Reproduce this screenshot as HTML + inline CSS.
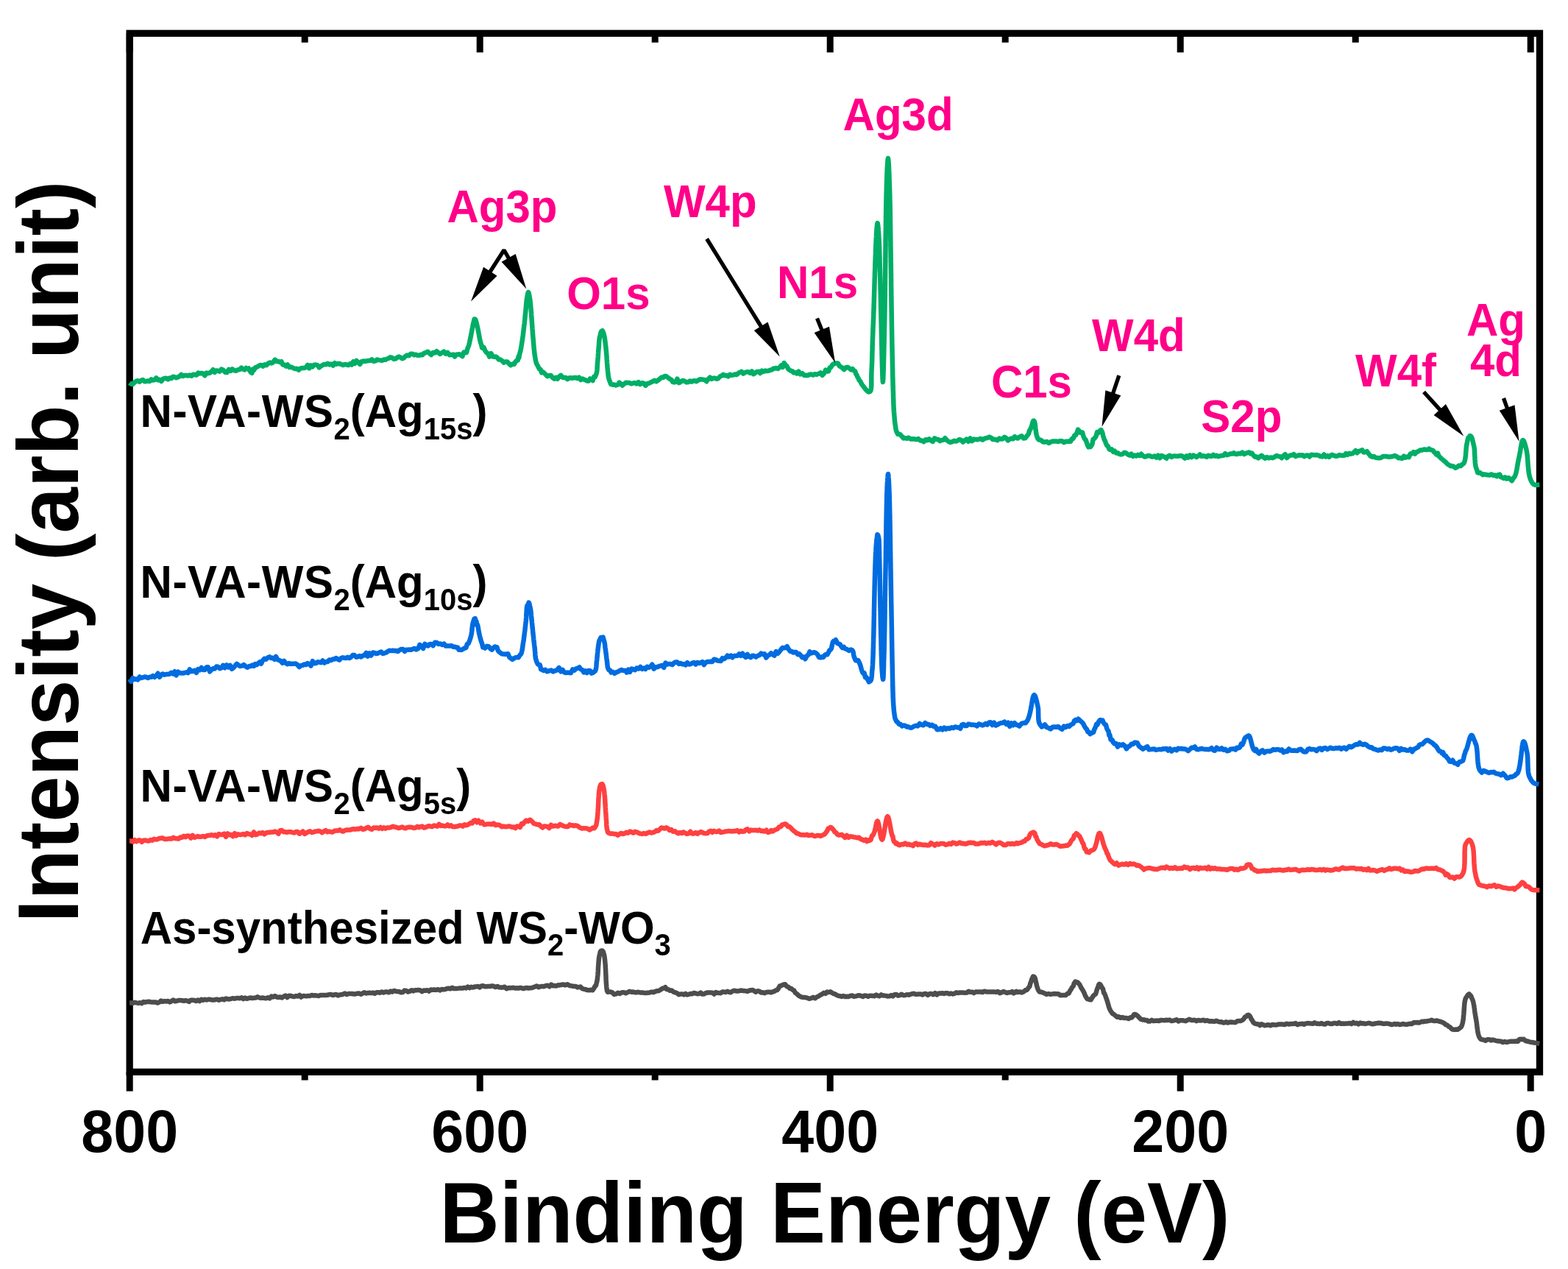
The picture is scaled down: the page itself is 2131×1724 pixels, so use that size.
<!DOCTYPE html>
<html><head><meta charset="utf-8"><title>XPS survey spectra</title>
<style>html,body{margin:0;padding:0;background:#fff;}svg{display:block;}</style>
</head><body>
<svg width="2131" height="1724" viewBox="0 0 2131 1724" font-family="'Liberation Sans', Arial, sans-serif" font-weight="bold">
<rect width="2131" height="1724" fill="#fff"/>
<rect x="176.15" y="45.3" width="1916.35" height="1411.0" fill="none" stroke="#000" stroke-width="9.3" stroke-linejoin="miter"/>
<path d="M176.2,1456.3 V1482.5 M176.2,45.3 V71.2 M414.2,1456.3 V1467.5 M414.2,45.3 V57.7 M652.2,1456.3 V1482.5 M652.2,45.3 V71.2 M890.2,1456.3 V1467.5 M890.2,45.3 V57.7 M1128.2,1456.3 V1482.5 M1128.2,45.3 V71.2 M1366.2,1456.3 V1467.5 M1366.2,45.3 V57.7 M1604.2,1456.3 V1482.5 M1604.2,45.3 V71.2 M1842.2,1456.3 V1467.5 M1842.2,45.3 V57.7 M2080.2,1456.3 V1482.5 M2080.2,45.3 V71.2" stroke="#000" stroke-width="9" fill="none"/>
<path d="M176.0,1362.5 L178.4,1362.4 L180.8,1362.7 L183.1,1361.8 L185.5,1362.4 L187.9,1362.8 L190.3,1362.2 L192.7,1363.1 L195.0,1361.0 L197.4,1361.7 L199.8,1361.0 L202.2,1360.8 L204.6,1361.2 L207.0,1361.4 L209.3,1361.5 L211.7,1361.5 L214.1,1362.6 L216.5,1361.6 L218.9,1359.5 L221.2,1360.8 L223.6,1360.1 L226.0,1360.5 L228.4,1360.0 L230.8,1361.4 L233.1,1360.1 L235.5,1358.6 L237.9,1360.3 L240.3,1359.8 L242.7,1359.0 L245.0,1359.1 L247.4,1359.3 L249.8,1359.7 L252.2,1359.3 L254.6,1359.6 L257.0,1360.9 L259.3,1358.7 L261.7,1358.7 L264.1,1359.0 L266.5,1360.0 L268.9,1358.5 L271.2,1360.1 L273.6,1357.8 L276.0,1358.8 L278.4,1357.8 L280.8,1358.5 L283.1,1357.7 L285.5,1357.8 L287.9,1358.5 L290.3,1358.6 L292.7,1358.0 L295.0,1357.6 L297.4,1358.7 L299.8,1357.9 L302.2,1357.3 L304.6,1358.3 L307.0,1356.5 L309.3,1357.2 L311.7,1357.4 L314.1,1356.8 L316.5,1356.2 L318.9,1356.8 L321.2,1356.0 L323.6,1355.9 L326.0,1356.2 L328.4,1355.3 L330.8,1357.1 L333.1,1355.5 L335.5,1356.8 L337.9,1356.1 L340.3,1355.5 L342.7,1356.1 L345.0,1355.8 L347.4,1355.6 L349.8,1354.3 L352.2,1355.4 L354.6,1355.9 L357.0,1355.5 L359.3,1355.9 L361.7,1356.2 L364.1,1355.2 L366.5,1356.4 L368.9,1353.6 L371.2,1354.5 L373.6,1353.0 L376.0,1354.5 L378.4,1355.0 L380.8,1354.4 L383.1,1355.5 L385.5,1353.9 L387.9,1352.5 L390.3,1355.0 L392.7,1352.8 L395.0,1352.8 L397.4,1353.6 L399.8,1354.1 L402.2,1353.1 L404.6,1353.5 L407.0,1351.9 L409.3,1354.6 L411.7,1353.1 L414.1,1353.1 L416.5,1353.4 L418.9,1352.9 L421.2,1352.9 L423.6,1351.9 L426.0,1352.5 L428.4,1352.3 L430.8,1352.6 L433.1,1353.0 L435.5,1352.0 L437.9,1352.0 L440.3,1352.1 L442.7,1352.1 L445.0,1351.7 L447.4,1351.3 L449.8,1350.9 L452.2,1352.1 L454.6,1351.3 L457.0,1351.0 L459.3,1352.4 L461.7,1351.4 L464.1,1351.3 L466.5,1350.6 L468.9,1349.6 L471.2,1351.1 L473.6,1350.1 L476.0,1350.0 L478.4,1349.9 L480.8,1350.5 L483.1,1350.4 L485.5,1349.7 L487.9,1349.4 L490.3,1350.8 L492.7,1349.6 L495.0,1348.2 L497.4,1349.5 L499.8,1348.9 L502.2,1348.7 L504.6,1349.1 L507.0,1348.6 L509.3,1349.8 L511.7,1348.3 L514.1,1348.3 L516.5,1348.8 L518.9,1347.4 L521.2,1348.5 L523.6,1347.6 L526.0,1347.5 L528.4,1348.3 L530.8,1346.6 L533.1,1347.5 L535.5,1345.9 L537.9,1346.7 L540.3,1346.9 L542.7,1347.2 L545.0,1348.2 L547.4,1348.1 L549.8,1345.6 L552.2,1345.9 L554.6,1347.4 L557.0,1346.6 L559.3,1345.2 L561.7,1346.5 L564.1,1345.2 L566.5,1345.3 L568.9,1344.9 L571.2,1345.5 L573.6,1347.1 L576.0,1345.5 L578.4,1345.7 L580.8,1345.2 L583.2,1346.6 L585.6,1344.6 L588.1,1344.7 L590.5,1344.5 L592.9,1344.9 L595.4,1344.2 L597.8,1345.4 L600.2,1343.9 L602.7,1344.4 L605.1,1344.0 L607.5,1343.0 L609.9,1342.8 L612.2,1343.3 L614.6,1341.7 L616.9,1343.1 L619.2,1343.0 L621.5,1342.9 L623.8,1342.6 L626.0,1342.5 L628.5,1342.6 L630.9,1341.9 L633.4,1342.4 L635.8,1340.5 L638.1,1342.2 L640.5,1340.7 L642.8,1341.5 L645.1,1340.6 L647.4,1340.4 L649.7,1340.0 L652.0,1341.4 L654.3,1339.5 L656.6,1339.3 L658.9,1340.2 L661.2,1340.2 L663.5,1340.0 L666.0,1340.1 L668.4,1339.4 L670.9,1339.8 L673.4,1341.1 L676.0,1339.9 L678.5,1341.3 L681.0,1341.6 L683.5,1341.4 L685.9,1340.7 L688.4,1343.2 L690.8,1342.1 L693.1,1342.3 L695.5,1342.1 L697.8,1341.7 L700.0,1342.5 L702.4,1342.3 L704.8,1342.6 L707.0,1341.8 L709.2,1342.4 L711.4,1343.1 L713.6,1342.4 L715.7,1341.9 L717.9,1342.5 L720.2,1342.3 L722.6,1342.1 L725.0,1341.2 L727.2,1340.5 L729.4,1339.5 L731.8,1341.2 L734.2,1340.4 L736.6,1339.9 L739.1,1340.2 L741.6,1339.2 L744.2,1338.8 L746.7,1340.3 L749.1,1337.6 L751.6,1339.2 L753.9,1339.1 L756.2,1339.5 L758.4,1338.3 L760.5,1338.4 L762.5,1338.0 L765.4,1337.4 L768.2,1338.4 L770.9,1337.2 L773.4,1338.6 L775.8,1339.3 L778.0,1339.6 L780.0,1340.0 L782.5,1339.9 L784.7,1341.4 L786.8,1341.0 L788.9,1340.6 L791.0,1342.9 L793.1,1343.6 L795.7,1344.1 L798.3,1345.1 L800.9,1345.2 L803.2,1344.8 L805.3,1345.3 L807.2,1342.6 L808.7,1339.8 L809.9,1339.0 L810.8,1335.3 L811.4,1332.9 L811.8,1330.3 L812.1,1327.6 L812.4,1324.8 L812.6,1322.3 L812.8,1319.7 L812.9,1317.1 L813.0,1314.4 L813.2,1311.8 L813.4,1309.6 L813.5,1307.3 L813.7,1305.0 L813.9,1302.7 L814.2,1300.6 L814.5,1298.7 L815.1,1297.0 L815.7,1293.4 L816.6,1291.9 L818.4,1291.4 L819.7,1292.7 L820.7,1296.1 L821.3,1298.4 L821.7,1300.9 L822.0,1303.7 L822.3,1306.6 L822.5,1308.7 L822.7,1310.8 L822.8,1313.1 L822.9,1315.3 L823.1,1317.6 L823.2,1319.9 L823.3,1322.2 L823.4,1324.5 L823.5,1326.8 L823.6,1329.1 L823.6,1331.4 L823.8,1333.7 L823.9,1335.9 L824.1,1337.9 L824.3,1340.8 L824.6,1343.6 L825.0,1346.1 L826.0,1347.8 L827.8,1347.5 L830.0,1347.6 L832.2,1348.3 L834.7,1350.9 L837.4,1350.4 L839.8,1348.8 L842.4,1349.9 L845.2,1348.3 L847.9,1348.3 L850.4,1349.4 L852.9,1348.1 L855.5,1346.8 L858.3,1347.8 L860.5,1347.5 L862.7,1348.2 L865.1,1348.3 L867.5,1347.8 L870.0,1348.4 L872.5,1348.4 L875.0,1348.8 L877.5,1349.0 L880.1,1348.7 L882.8,1348.4 L885.5,1347.6 L888.2,1348.2 L890.7,1346.8 L893.0,1346.2 L895.0,1346.2 L897.1,1345.0 L898.7,1343.9 L900.4,1342.8 L902.5,1342.5 L904.2,1341.2 L906.2,1344.1 L908.3,1344.3 L910.5,1345.8 L912.9,1345.6 L915.3,1347.6 L917.7,1348.3 L920.2,1349.2 L922.6,1351.2 L925.0,1350.5 L927.2,1350.4 L929.4,1351.4 L931.7,1349.8 L933.9,1351.4 L936.2,1350.8 L938.5,1350.0 L940.8,1350.2 L943.1,1349.0 L945.4,1349.5 L947.7,1350.2 L950.0,1350.0 L952.3,1348.5 L954.5,1350.6 L956.8,1350.4 L959.1,1349.1 L961.4,1348.5 L963.6,1348.4 L965.9,1348.4 L968.2,1348.7 L970.5,1350.5 L972.7,1348.1 L975.0,1348.8 L977.3,1349.1 L979.5,1349.2 L981.8,1347.4 L984.1,1347.6 L986.4,1348.0 L988.6,1346.8 L990.9,1347.9 L993.2,1348.2 L995.5,1346.5 L997.7,1345.8 L1000.0,1346.2 L1002.3,1346.6 L1004.5,1346.3 L1006.8,1345.5 L1009.1,1345.9 L1011.4,1346.1 L1013.6,1346.4 L1015.9,1346.9 L1018.2,1345.7 L1020.5,1345.2 L1022.7,1345.0 L1025.0,1346.2 L1027.3,1347.7 L1029.7,1346.3 L1032.0,1346.6 L1034.4,1348.6 L1036.8,1348.3 L1039.2,1349.2 L1041.5,1347.9 L1043.8,1347.7 L1045.9,1347.7 L1048.0,1348.4 L1050.0,1347.5 L1052.2,1346.9 L1054.2,1345.5 L1056.1,1345.1 L1057.9,1342.9 L1059.7,1339.5 L1061.5,1339.2 L1063.2,1338.3 L1065.0,1337.5 L1067.2,1337.3 L1069.3,1340.2 L1071.4,1340.8 L1073.5,1342.9 L1075.5,1343.1 L1077.5,1345.0 L1079.2,1345.6 L1080.7,1348.6 L1082.2,1349.6 L1083.8,1350.9 L1085.5,1352.6 L1087.5,1353.8 L1089.6,1354.6 L1091.9,1355.0 L1094.4,1355.1 L1097.0,1355.7 L1099.7,1356.8 L1102.4,1356.2 L1105.1,1354.8 L1107.6,1356.3 L1110.0,1354.5 L1112.5,1353.5 L1114.9,1351.7 L1117.3,1350.6 L1119.6,1348.9 L1121.8,1349.9 L1124.0,1347.6 L1126.2,1348.0 L1128.5,1347.3 L1130.7,1348.7 L1132.8,1350.0 L1134.9,1350.4 L1137.3,1351.9 L1140.0,1353.0 L1141.9,1353.2 L1143.9,1353.9 L1146.0,1352.9 L1148.3,1354.0 L1150.6,1353.7 L1153.1,1353.9 L1155.6,1353.0 L1158.1,1352.5 L1160.6,1353.8 L1163.2,1353.4 L1165.7,1352.4 L1168.1,1352.2 L1170.5,1353.1 L1172.8,1353.9 L1175.0,1352.5 L1177.4,1352.7 L1179.8,1353.9 L1182.0,1352.7 L1184.3,1352.7 L1186.5,1352.9 L1188.6,1353.3 L1190.8,1351.5 L1193.0,1352.7 L1195.3,1353.4 L1197.6,1351.4 L1200.0,1352.5 L1202.2,1352.6 L1204.4,1352.9 L1206.6,1353.5 L1208.9,1353.3 L1211.2,1352.1 L1213.5,1353.4 L1215.8,1351.2 L1218.1,1350.9 L1220.5,1352.7 L1222.9,1352.1 L1225.4,1350.7 L1227.9,1352.2 L1230.4,1351.9 L1233.0,1351.2 L1235.2,1351.7 L1237.4,1350.8 L1239.6,1350.2 L1241.9,1349.8 L1244.2,1350.8 L1246.5,1350.8 L1248.9,1350.5 L1251.3,1350.4 L1253.7,1351.4 L1256.1,1349.9 L1258.6,1350.1 L1261.0,1352.0 L1263.5,1350.1 L1266.0,1350.1 L1268.4,1351.2 L1270.9,1349.1 L1273.3,1351.4 L1275.8,1349.4 L1278.2,1349.6 L1280.6,1349.2 L1283.0,1350.0 L1285.4,1349.2 L1287.8,1349.3 L1290.1,1350.3 L1292.5,1349.5 L1294.9,1350.4 L1297.3,1349.8 L1299.7,1348.3 L1302.0,1349.0 L1304.4,1348.4 L1306.8,1348.4 L1309.2,1348.6 L1311.6,1348.7 L1314.0,1348.6 L1316.3,1346.8 L1318.7,1347.9 L1321.1,1347.6 L1323.5,1349.1 L1325.9,1347.5 L1328.2,1347.6 L1330.6,1347.6 L1333.0,1347.5 L1335.4,1348.0 L1337.9,1346.7 L1340.4,1347.4 L1343.0,1347.4 L1345.6,1347.6 L1348.3,1347.5 L1350.9,1347.4 L1353.6,1347.9 L1356.2,1347.0 L1358.8,1349.1 L1361.4,1348.1 L1363.9,1347.0 L1366.4,1348.1 L1368.8,1349.0 L1371.2,1348.2 L1373.4,1348.3 L1375.6,1347.0 L1377.6,1349.3 L1379.5,1348.3 L1381.3,1346.8 L1383.0,1348.0 L1386.1,1347.4 L1388.8,1348.4 L1391.2,1347.3 L1393.4,1345.3 L1395.5,1345.0 L1396.9,1343.1 L1398.1,1341.5 L1399.3,1340.1 L1400.3,1336.1 L1401.3,1333.7 L1402.2,1330.4 L1403.1,1328.6 L1404.1,1326.5 L1405.0,1326.8 L1405.9,1327.4 L1406.7,1329.0 L1407.3,1331.4 L1408.0,1334.2 L1408.6,1337.3 L1409.4,1340.5 L1410.4,1343.4 L1411.5,1345.8 L1413.0,1347.5 L1414.9,1347.7 L1417.2,1348.4 L1419.7,1349.4 L1422.3,1350.8 L1425.1,1350.0 L1427.8,1350.8 L1430.5,1350.4 L1433.0,1350.0 L1435.6,1350.3 L1438.2,1350.2 L1440.9,1352.2 L1443.5,1351.9 L1445.9,1351.9 L1448.3,1352.1 L1450.5,1350.0 L1452.4,1349.6 L1454.0,1346.6 L1455.6,1344.1 L1457.0,1341.5 L1458.5,1339.9 L1459.9,1335.6 L1461.4,1333.6 L1463.0,1334.2 L1464.4,1334.4 L1465.8,1336.0 L1467.3,1337.5 L1468.9,1341.0 L1470.4,1343.5 L1472.0,1346.0 L1473.5,1348.9 L1475.0,1352.9 L1476.5,1355.4 L1477.9,1357.2 L1479.2,1357.2 L1480.5,1358.0 L1482.6,1358.3 L1484.5,1355.1 L1486.3,1352.4 L1488.0,1351.2 L1489.1,1350.4 L1490.0,1347.3 L1490.8,1344.5 L1491.7,1342.3 L1492.5,1340.1 L1493.3,1337.6 L1494.2,1336.8 L1495.2,1337.3 L1496.1,1338.7 L1497.1,1340.6 L1498.1,1342.4 L1499.1,1343.9 L1500.1,1348.8 L1501.1,1349.7 L1502.1,1352.3 L1503.0,1355.0 L1503.9,1357.2 L1504.6,1359.6 L1505.4,1362.1 L1506.1,1364.5 L1506.8,1367.0 L1507.5,1369.3 L1508.4,1371.4 L1509.4,1373.4 L1510.5,1375.0 L1512.2,1377.2 L1514.0,1378.2 L1516.0,1379.8 L1518.2,1381.7 L1520.5,1381.2 L1522.8,1382.8 L1525.4,1382.1 L1528.2,1383.1 L1531.0,1383.0 L1533.7,1384.0 L1536.1,1382.3 L1538.0,1382.5 L1539.9,1380.4 L1541.4,1377.9 L1543.0,1378.0 L1544.6,1378.9 L1546.4,1380.4 L1548.3,1382.6 L1550.5,1384.7 L1553.0,1385.5 L1554.7,1385.2 L1556.6,1386.1 L1558.6,1385.9 L1560.7,1387.6 L1562.9,1387.4 L1565.2,1385.8 L1567.6,1387.1 L1570.1,1386.7 L1572.6,1386.6 L1575.2,1386.9 L1577.8,1385.9 L1580.4,1386.1 L1583.0,1386.2 L1585.1,1385.8 L1587.3,1385.9 L1589.5,1385.6 L1591.8,1387.0 L1594.2,1386.7 L1596.6,1386.1 L1599.0,1385.2 L1601.4,1387.5 L1603.9,1386.2 L1606.4,1386.3 L1608.9,1386.6 L1611.4,1387.2 L1613.9,1385.9 L1616.4,1384.8 L1618.9,1385.9 L1621.3,1386.1 L1623.7,1385.7 L1626.1,1387.1 L1628.5,1385.9 L1630.8,1386.4 L1633.0,1386.2 L1635.5,1385.8 L1638.0,1387.0 L1640.6,1386.2 L1643.1,1387.4 L1645.6,1387.2 L1648.1,1387.5 L1650.5,1387.8 L1653.0,1386.8 L1655.4,1387.8 L1657.7,1388.4 L1660.0,1388.2 L1662.3,1389.4 L1664.4,1389.3 L1666.5,1388.3 L1668.6,1389.6 L1670.5,1388.8 L1673.4,1388.5 L1676.2,1388.9 L1678.9,1389.1 L1681.4,1387.3 L1683.7,1387.1 L1685.9,1387.0 L1688.0,1386.2 L1690.1,1384.7 L1691.9,1381.7 L1693.5,1381.2 L1695.1,1379.4 L1696.8,1378.8 L1698.1,1379.7 L1699.3,1381.6 L1700.4,1384.3 L1701.7,1385.9 L1703.3,1389.0 L1705.5,1390.5 L1706.9,1390.9 L1708.6,1391.3 L1710.4,1391.5 L1712.3,1393.1 L1714.4,1391.3 L1716.7,1392.3 L1719.0,1393.2 L1721.5,1392.6 L1724.0,1392.3 L1726.6,1393.3 L1729.3,1391.9 L1732.0,1392.2 L1734.7,1392.4 L1737.5,1391.6 L1740.3,1391.4 L1743.1,1391.6 L1745.8,1392.0 L1748.5,1390.7 L1751.2,1391.5 L1753.8,1391.0 L1756.3,1391.0 L1758.6,1390.8 L1760.9,1390.1 L1763.2,1392.1 L1765.5,1391.3 L1767.8,1391.1 L1770.2,1390.7 L1772.5,1391.8 L1774.9,1390.4 L1777.2,1390.1 L1779.6,1390.2 L1781.9,1390.6 L1784.3,1390.8 L1786.6,1389.3 L1789.0,1390.7 L1791.4,1390.6 L1793.7,1391.0 L1796.1,1390.1 L1798.5,1391.2 L1800.8,1391.5 L1803.2,1389.9 L1805.5,1390.0 L1807.9,1390.8 L1810.3,1390.9 L1812.6,1390.1 L1815.0,1390.1 L1817.3,1390.8 L1819.7,1389.1 L1822.1,1390.7 L1824.5,1390.4 L1826.9,1390.7 L1829.4,1390.4 L1831.8,1390.6 L1834.2,1389.9 L1836.6,1391.0 L1839.0,1388.9 L1841.5,1390.4 L1843.9,1389.8 L1846.2,1391.5 L1848.6,1389.6 L1851.0,1390.4 L1853.3,1390.3 L1855.6,1390.9 L1857.9,1390.4 L1860.2,1389.8 L1862.4,1390.4 L1864.6,1391.2 L1866.8,1391.0 L1868.9,1390.5 L1871.5,1390.1 L1874.0,1389.8 L1876.5,1389.9 L1879.0,1390.7 L1881.4,1390.7 L1883.8,1390.6 L1886.2,1390.6 L1888.5,1391.1 L1890.8,1391.9 L1893.1,1391.7 L1895.4,1390.9 L1897.7,1391.7 L1899.9,1391.0 L1902.1,1391.9 L1904.3,1391.7 L1906.5,1391.0 L1909.0,1391.5 L1911.5,1391.9 L1914.1,1391.2 L1916.6,1390.8 L1919.0,1390.9 L1921.5,1389.1 L1923.8,1389.3 L1926.2,1389.0 L1928.4,1389.5 L1930.6,1388.7 L1932.6,1387.7 L1934.6,1388.2 L1937.1,1387.4 L1939.3,1387.4 L1941.5,1386.9 L1943.5,1386.6 L1945.6,1385.8 L1947.8,1386.7 L1950.3,1387.0 L1952.9,1386.5 L1955.5,1387.5 L1958.0,1388.0 L1960.5,1389.0 L1962.8,1390.1 L1964.8,1392.2 L1966.7,1392.7 L1968.6,1394.5 L1970.4,1395.2 L1972.2,1397.2 L1974.1,1398.5 L1976.4,1398.9 L1978.8,1398.5 L1981.2,1398.7 L1983.4,1397.1 L1985.3,1395.7 L1986.2,1394.5 L1986.9,1392.9 L1987.5,1390.9 L1988.0,1388.7 L1988.4,1386.3 L1988.8,1383.6 L1989.0,1380.8 L1989.3,1378.0 L1989.5,1375.1 L1989.7,1372.2 L1989.9,1369.3 L1990.1,1366.6 L1990.3,1364.0 L1990.6,1361.7 L1991.0,1359.6 L1991.4,1357.8 L1991.9,1356.3 L1993.4,1353.9 L1995.0,1351.4 L1996.6,1350.4 L1997.8,1351.8 L1999.1,1352.9 L2000.2,1356.1 L2001.3,1358.2 L2001.9,1360.0 L2002.4,1362.0 L2002.8,1364.2 L2003.3,1366.5 L2003.6,1369.0 L2004.0,1371.6 L2004.3,1374.2 L2004.7,1376.9 L2005.1,1379.5 L2005.5,1382.0 L2006.0,1384.5 L2006.4,1386.9 L2006.8,1389.4 L2007.1,1392.0 L2007.4,1394.6 L2007.7,1397.3 L2008.1,1399.9 L2008.5,1402.5 L2009.0,1404.8 L2009.7,1407.0 L2010.4,1408.9 L2011.4,1410.5 L2012.5,1411.7 L2014.3,1412.4 L2016.5,1412.7 L2018.9,1413.9 L2021.4,1412.2 L2024.0,1412.2 L2026.4,1413.5 L2028.5,1412.6 L2030.9,1413.2 L2033.1,1413.8 L2035.3,1414.3 L2037.9,1414.5 L2040.0,1414.7 L2042.5,1416.1 L2045.2,1415.0 L2048.0,1416.0 L2050.8,1415.1 L2053.6,1414.7 L2056.1,1414.8 L2058.5,1414.8 L2060.4,1414.5 L2062.9,1414.7 L2064.9,1412.0 L2067.0,1411.7 L2068.9,1412.2 L2070.9,1411.8 L2073.1,1414.0 L2075.4,1414.5 L2077.5,1415.0 L2079.8,1415.8 L2082.2,1416.0 L2084.7,1416.5 L2087.3,1416.9 L2089.8,1417.4 L2092.3,1417.9" fill="none" stroke="#4d4d4d" stroke-width="6.5" stroke-linejoin="round" stroke-linecap="butt"/>
<path d="M176.0,1142.5 L178.4,1142.5 L180.8,1143.7 L183.1,1141.1 L185.5,1143.2 L187.9,1141.6 L190.3,1141.5 L192.7,1143.9 L195.0,1141.8 L197.4,1141.5 L199.8,1142.2 L202.2,1142.6 L204.6,1141.1 L207.0,1141.7 L209.3,1139.8 L211.7,1140.4 L214.1,1140.2 L216.5,1139.0 L218.9,1138.7 L221.2,1138.4 L223.6,1139.9 L226.0,1140.0 L228.4,1139.6 L230.8,1139.3 L233.1,1139.6 L235.5,1137.8 L237.9,1139.0 L240.3,1139.2 L242.7,1139.6 L245.0,1137.5 L247.4,1137.8 L249.8,1135.8 L252.2,1137.3 L254.6,1135.4 L257.0,1135.8 L259.3,1138.5 L261.7,1134.8 L264.1,1137.8 L266.5,1137.0 L268.9,1136.1 L271.2,1136.8 L273.6,1136.7 L276.0,1136.0 L278.4,1137.0 L280.8,1135.5 L283.1,1135.0 L285.5,1134.8 L287.9,1134.3 L290.3,1135.3 L292.7,1134.4 L295.0,1136.4 L297.4,1133.0 L299.8,1133.8 L302.2,1133.9 L304.6,1132.6 L307.0,1136.9 L309.3,1132.4 L311.7,1134.3 L314.1,1133.9 L316.5,1136.3 L318.9,1132.1 L321.2,1135.4 L323.6,1133.3 L326.0,1134.0 L328.4,1133.7 L330.8,1133.0 L333.1,1134.3 L335.5,1132.1 L337.9,1133.1 L340.3,1133.4 L342.7,1134.9 L345.0,1130.4 L347.4,1134.1 L349.8,1133.3 L352.2,1131.5 L354.6,1132.2 L356.9,1131.1 L359.3,1133.3 L361.7,1131.5 L364.1,1130.9 L366.5,1130.7 L368.9,1130.6 L371.2,1130.5 L373.6,1129.6 L376.0,1130.5 L378.4,1132.7 L380.8,1128.2 L383.1,1128.1 L385.5,1130.2 L387.9,1130.2 L390.3,1130.7 L392.7,1130.1 L395.0,1130.2 L397.4,1130.8 L399.8,1131.5 L402.2,1130.0 L404.6,1130.1 L407.0,1132.7 L409.3,1131.2 L411.7,1129.5 L414.1,1132.9 L416.5,1131.5 L418.9,1130.0 L421.2,1129.3 L423.6,1130.9 L426.0,1130.5 L428.4,1129.5 L430.8,1129.2 L433.1,1128.8 L435.5,1129.6 L437.9,1131.2 L440.3,1129.4 L442.7,1128.1 L445.1,1130.3 L447.4,1129.5 L449.8,1130.2 L452.2,1130.4 L454.6,1128.8 L457.0,1128.6 L459.3,1128.6 L461.7,1127.2 L464.1,1129.0 L466.5,1129.6 L468.9,1128.1 L471.2,1127.5 L473.6,1127.4 L476.0,1127.5 L478.4,1126.5 L480.8,1126.3 L483.2,1126.6 L485.7,1126.0 L488.1,1126.2 L490.6,1124.8 L493.0,1126.8 L495.5,1126.3 L497.9,1124.8 L500.4,1123.7 L502.8,1125.7 L505.2,1126.8 L507.7,1124.6 L510.0,1124.8 L512.4,1124.5 L514.8,1125.7 L517.1,1123.9 L519.4,1125.9 L521.6,1124.3 L523.8,1125.6 L526.0,1124.5 L528.6,1124.5 L531.3,1124.1 L533.9,1122.7 L536.4,1123.5 L539.0,1124.0 L541.5,1125.0 L543.9,1124.5 L546.4,1123.5 L548.8,1124.7 L551.1,1125.3 L553.4,1124.1 L555.6,1123.7 L557.8,1123.7 L560.0,1124.1 L562.5,1124.9 L564.9,1124.5 L567.2,1122.8 L569.5,1124.1 L571.7,1123.0 L573.9,1122.6 L576.1,1124.6 L578.3,1124.0 L580.6,1123.0 L582.9,1122.0 L585.2,1122.7 L587.5,1123.0 L589.8,1121.5 L592.1,1121.9 L594.4,1122.6 L596.7,1119.7 L599.0,1121.9 L601.3,1121.5 L603.6,1122.3 L606.0,1122.2 L608.3,1120.4 L610.7,1122.4 L613.0,1121.3 L615.3,1123.1 L617.6,1123.2 L619.8,1122.8 L622.0,1122.5 L624.4,1121.5 L626.7,1121.4 L629.1,1122.6 L631.3,1120.2 L633.5,1121.2 L635.5,1120.6 L637.4,1119.4 L639.7,1117.8 L641.8,1118.5 L643.7,1115.0 L645.7,1114.3 L648.1,1117.3 L650.4,1114.8 L652.9,1118.4 L655.3,1116.7 L657.9,1120.2 L660.6,1119.9 L663.2,1119.4 L665.8,1119.4 L668.3,1120.1 L670.9,1118.5 L673.6,1121.0 L675.6,1120.6 L677.8,1120.5 L680.0,1121.7 L682.2,1123.2 L684.5,1122.6 L686.8,1123.2 L689.0,1123.0 L691.3,1122.4 L693.6,1122.9 L695.9,1123.7 L698.3,1123.4 L700.5,1125.0 L702.6,1122.5 L704.5,1123.0 L706.9,1123.8 L708.9,1119.0 L710.8,1119.4 L712.8,1116.8 L715.2,1114.5 L717.6,1115.8 L720.0,1113.7 L721.8,1114.7 L723.6,1116.5 L725.4,1118.7 L727.3,1119.4 L729.2,1119.8 L731.1,1120.4 L733.1,1120.3 L735.5,1123.0 L737.4,1124.5 L739.4,1122.6 L741.6,1122.6 L744.0,1123.0 L746.4,1125.0 L748.9,1120.7 L751.3,1122.6 L753.8,1121.7 L756.2,1122.0 L758.6,1122.5 L761.2,1119.9 L763.9,1121.2 L766.7,1122.4 L769.4,1123.0 L772.0,1123.0 L774.3,1120.3 L776.3,1121.3 L777.9,1121.2 L779.0,1121.5 L780.0,1122.1 L782.0,1121.3 L784.9,1122.0 L787.8,1124.2 L790.4,1125.4 L793.1,1125.2 L795.7,1125.2 L798.4,1125.6 L801.0,1127.5 L803.5,1126.2 L805.6,1124.5 L807.6,1125.1 L809.2,1123.1 L810.3,1120.9 L810.8,1118.2 L811.3,1115.3 L811.6,1113.3 L811.9,1111.2 L812.1,1109.0 L812.3,1106.8 L812.4,1104.5 L812.6,1102.2 L812.7,1100.0 L812.9,1097.8 L813.0,1095.5 L813.1,1093.3 L813.2,1091.0 L813.3,1088.8 L813.4,1086.6 L813.5,1084.3 L813.7,1082.0 L813.8,1079.8 L814.0,1077.6 L814.2,1075.5 L814.5,1073.5 L815.0,1070.4 L815.7,1067.6 L816.6,1065.7 L818.4,1065.1 L819.4,1066.9 L820.2,1069.8 L820.6,1071.7 L821.0,1073.9 L821.3,1076.3 L821.5,1078.8 L821.8,1081.3 L822.0,1083.4 L822.2,1085.6 L822.3,1087.9 L822.4,1090.1 L822.5,1092.4 L822.7,1094.7 L822.8,1097.0 L823.0,1099.3 L823.1,1101.5 L823.3,1103.8 L823.4,1106.1 L823.6,1108.3 L823.7,1110.5 L823.9,1112.7 L824.1,1115.5 L824.2,1118.2 L824.3,1120.9 L824.5,1123.5 L824.9,1125.7 L825.4,1127.9 L826.0,1130.5 L827.0,1131.5 L829.3,1132.5 L832.2,1132.5 L834.5,1132.9 L837.1,1133.0 L839.8,1134.7 L842.7,1132.5 L844.8,1132.0 L846.9,1133.0 L849.1,1132.2 L851.4,1130.8 L853.7,1131.6 L856.0,1129.6 L858.3,1130.4 L860.7,1131.7 L863.1,1129.8 L865.5,1130.5 L867.9,1131.7 L870.3,1132.6 L872.7,1132.9 L875.0,1132.0 L877.6,1132.8 L880.2,1131.5 L882.7,1130.4 L885.2,1131.6 L887.7,1130.9 L890.0,1130.0 L892.3,1128.1 L894.5,1128.8 L896.6,1126.7 L898.8,1124.5 L901.2,1125.0 L903.3,1125.6 L905.5,1124.3 L907.7,1125.6 L910.0,1128.0 L912.4,1127.1 L914.8,1129.8 L917.4,1129.2 L920.0,1131.3 L922.1,1132.3 L924.2,1131.0 L926.5,1132.0 L928.8,1130.4 L931.1,1131.6 L933.5,1132.9 L935.9,1132.3 L938.3,1129.8 L940.7,1132.6 L943.1,1132.4 L945.5,1131.0 L947.8,1132.8 L950.0,1131.2 L952.4,1130.1 L954.7,1131.0 L957.0,1132.1 L959.3,1132.2 L961.5,1132.1 L963.8,1129.5 L966.0,1128.7 L968.2,1130.8 L970.5,1128.8 L972.7,1130.0 L975.0,1130.0 L977.3,1128.6 L979.5,1130.9 L981.8,1130.5 L984.1,1130.1 L986.4,1129.4 L988.6,1129.3 L990.9,1128.9 L993.2,1129.4 L995.5,1129.2 L997.7,1129.3 L1000.0,1128.8 L1002.3,1128.2 L1004.5,1130.5 L1006.8,1128.7 L1009.1,1129.8 L1011.4,1129.6 L1013.6,1127.3 L1015.9,1126.4 L1018.2,1129.3 L1020.5,1127.6 L1022.7,1128.1 L1025.0,1128.0 L1027.3,1127.8 L1029.7,1128.5 L1032.0,1127.4 L1034.4,1128.9 L1036.8,1128.8 L1039.2,1129.6 L1041.5,1127.8 L1043.7,1130.9 L1045.9,1130.4 L1048.0,1128.1 L1050.0,1129.5 L1052.5,1127.8 L1054.8,1127.0 L1057.0,1125.8 L1059.0,1123.4 L1061.1,1123.1 L1063.0,1120.5 L1065.0,1120.0 L1067.1,1119.2 L1069.1,1120.4 L1071.0,1123.1 L1073.0,1123.1 L1075.0,1125.0 L1077.0,1127.2 L1078.9,1129.0 L1080.8,1130.2 L1082.8,1132.3 L1085.1,1132.5 L1087.5,1133.8 L1089.4,1134.3 L1091.6,1134.2 L1093.9,1134.5 L1096.3,1133.8 L1098.8,1135.0 L1101.4,1134.6 L1103.8,1134.2 L1106.3,1135.7 L1108.5,1135.9 L1110.6,1134.9 L1112.5,1135.0 L1115.4,1135.8 L1118.0,1134.6 L1120.4,1133.6 L1122.5,1131.2 L1124.2,1128.7 L1125.7,1125.4 L1127.1,1125.3 L1128.8,1123.8 L1130.1,1124.5 L1131.5,1126.1 L1133.0,1127.6 L1134.5,1130.5 L1136.2,1131.0 L1138.0,1133.8 L1140.0,1134.5 L1141.9,1134.3 L1143.9,1133.8 L1146.1,1135.7 L1148.4,1137.9 L1150.8,1134.9 L1153.2,1137.8 L1155.7,1136.2 L1158.0,1136.6 L1160.3,1137.2 L1162.5,1137.5 L1164.9,1138.2 L1167.3,1137.8 L1169.6,1139.7 L1172.0,1140.8 L1174.2,1141.8 L1176.3,1140.7 L1178.3,1143.1 L1180.0,1141.2 L1181.9,1142.1 L1183.6,1140.7 L1185.0,1135.5 L1186.3,1134.9 L1187.5,1132.5 L1188.5,1130.1 L1189.3,1127.1 L1190.0,1123.9 L1190.6,1120.7 L1191.2,1118.1 L1191.8,1116.2 L1192.5,1115.5 L1193.1,1116.1 L1193.6,1117.7 L1194.2,1120.1 L1194.7,1123.1 L1195.3,1126.4 L1195.9,1129.9 L1196.4,1133.2 L1197.0,1136.2 L1197.6,1138.6 L1198.2,1140.2 L1198.8,1140.8 L1199.3,1140.3 L1199.8,1139.0 L1200.3,1137.0 L1200.9,1134.5 L1201.4,1131.6 L1202.0,1128.3 L1202.5,1125.0 L1203.0,1121.6 L1203.6,1118.4 L1204.1,1115.5 L1204.7,1113.0 L1205.2,1111.0 L1205.7,1109.7 L1206.2,1109.2 L1206.8,1109.7 L1207.4,1110.9 L1208.0,1112.9 L1208.5,1115.3 L1209.1,1118.1 L1209.6,1121.1 L1210.2,1124.3 L1210.7,1127.4 L1211.3,1130.3 L1211.9,1132.9 L1212.5,1135.0 L1213.3,1135.9 L1214.1,1140.7 L1214.9,1143.2 L1216.0,1143.6 L1217.5,1146.2 L1219.1,1145.5 L1220.9,1147.7 L1222.9,1148.3 L1225.2,1146.9 L1227.6,1147.3 L1230.2,1145.5 L1233.0,1147.5 L1234.8,1146.8 L1236.7,1147.7 L1238.6,1147.7 L1240.7,1149.1 L1242.9,1146.4 L1245.2,1145.5 L1247.6,1147.9 L1250.0,1146.8 L1252.4,1147.6 L1254.9,1147.9 L1257.5,1147.7 L1260.1,1148.4 L1262.7,1148.3 L1265.3,1145.2 L1267.9,1146.7 L1270.5,1148.6 L1273.1,1146.2 L1275.6,1147.4 L1278.1,1146.3 L1280.6,1145.9 L1283.0,1146.2 L1285.4,1147.7 L1287.8,1147.1 L1290.1,1145.8 L1292.5,1146.9 L1294.9,1144.6 L1297.3,1145.1 L1299.7,1146.6 L1302.0,1145.7 L1304.4,1144.5 L1306.8,1145.9 L1309.2,1145.8 L1311.6,1146.6 L1314.0,1146.2 L1316.3,1145.0 L1318.7,1144.7 L1321.1,1145.0 L1323.5,1144.9 L1325.9,1146.5 L1328.2,1146.6 L1330.6,1146.3 L1333.0,1145.0 L1335.4,1145.4 L1337.9,1144.8 L1340.5,1146.0 L1343.1,1144.9 L1345.7,1145.6 L1348.4,1143.9 L1351.1,1145.3 L1353.8,1147.3 L1356.5,1145.0 L1359.1,1144.7 L1361.7,1146.2 L1364.3,1148.1 L1366.8,1148.0 L1369.2,1146.3 L1371.5,1146.3 L1373.8,1146.7 L1375.9,1145.9 L1377.9,1146.8 L1379.8,1146.3 L1381.5,1145.0 L1383.0,1146.2 L1386.1,1145.1 L1388.6,1144.6 L1390.8,1143.0 L1393.0,1142.5 L1394.7,1139.9 L1396.4,1139.8 L1398.1,1138.4 L1399.7,1133.9 L1401.3,1131.8 L1402.8,1131.4 L1404.2,1130.5 L1405.4,1131.0 L1406.4,1132.0 L1407.3,1136.3 L1408.2,1136.4 L1409.1,1139.4 L1410.2,1142.0 L1411.5,1143.9 L1413.0,1146.2 L1415.0,1146.9 L1417.3,1148.2 L1419.7,1149.3 L1422.4,1148.5 L1425.1,1147.8 L1427.8,1146.3 L1430.5,1147.4 L1433.0,1147.5 L1435.6,1146.9 L1438.2,1148.2 L1440.8,1149.8 L1443.4,1149.5 L1445.9,1149.3 L1448.3,1148.6 L1450.5,1148.8 L1452.3,1147.6 L1454.0,1145.9 L1455.6,1142.7 L1457.1,1140.6 L1458.6,1139.5 L1460.0,1134.8 L1461.4,1134.1 L1462.8,1132.2 L1464.2,1133.0 L1465.5,1135.0 L1466.7,1135.5 L1467.8,1137.3 L1468.9,1139.6 L1470.1,1142.2 L1471.2,1145.1 L1472.3,1146.2 L1473.4,1150.8 L1474.5,1153.6 L1475.6,1153.8 L1476.8,1157.5 L1478.0,1157.5 L1480.2,1158.3 L1482.5,1155.5 L1484.8,1155.1 L1486.8,1153.8 L1487.8,1152.1 L1488.7,1149.9 L1489.5,1147.2 L1490.3,1144.3 L1491.0,1141.2 L1491.6,1138.3 L1492.2,1135.7 L1492.9,1133.7 L1493.5,1132.3 L1494.2,1131.8 L1495.1,1132.2 L1495.8,1133.6 L1496.6,1135.6 L1497.4,1138.2 L1498.2,1141.1 L1499.0,1144.1 L1499.8,1147.2 L1500.8,1150.0 L1501.8,1152.5 L1502.7,1154.3 L1503.6,1156.4 L1504.5,1159.5 L1505.5,1160.2 L1506.5,1163.5 L1507.6,1166.1 L1508.7,1168.5 L1510.0,1169.7 L1511.4,1171.0 L1513.0,1172.5 L1515.1,1174.2 L1517.5,1172.4 L1520.1,1175.6 L1522.9,1174.7 L1525.6,1173.8 L1528.3,1174.6 L1530.8,1173.2 L1533.0,1175.0 L1535.8,1173.0 L1538.2,1174.2 L1540.6,1173.6 L1543.0,1174.5 L1544.9,1175.9 L1546.7,1175.4 L1548.6,1176.3 L1550.6,1177.7 L1553.0,1179.5 L1554.7,1181.5 L1556.6,1180.1 L1558.6,1179.6 L1560.7,1179.3 L1563.0,1179.2 L1565.3,1180.0 L1567.7,1180.5 L1570.1,1181.0 L1572.7,1180.9 L1575.2,1180.0 L1577.8,1179.0 L1580.4,1178.7 L1583.0,1179.5 L1585.1,1177.6 L1587.3,1178.5 L1589.6,1179.9 L1592.0,1179.2 L1594.4,1179.8 L1596.9,1178.2 L1599.4,1180.3 L1601.9,1179.7 L1604.4,1179.5 L1607.0,1179.8 L1609.6,1177.5 L1612.1,1178.9 L1614.6,1178.5 L1617.1,1181.1 L1619.6,1179.2 L1622.0,1178.9 L1624.4,1180.2 L1626.6,1178.4 L1628.9,1180.8 L1631.0,1178.8 L1633.0,1179.5 L1635.6,1179.5 L1638.0,1178.8 L1640.4,1180.5 L1642.6,1178.0 L1644.8,1180.6 L1647.0,1179.3 L1649.1,1180.2 L1651.2,1179.2 L1653.4,1180.6 L1655.7,1180.6 L1658.0,1180.5 L1660.3,1181.1 L1662.7,1180.9 L1665.1,1181.3 L1667.7,1181.8 L1670.2,1180.6 L1672.8,1179.9 L1675.3,1179.9 L1677.7,1181.7 L1680.1,1180.7 L1682.3,1181.9 L1684.4,1180.8 L1686.3,1179.5 L1688.0,1180.0 L1690.7,1179.4 L1692.8,1178.5 L1694.8,1174.9 L1696.8,1174.5 L1698.4,1174.4 L1699.9,1176.2 L1701.4,1179.9 L1703.2,1180.5 L1705.5,1182.5 L1707.2,1182.6 L1709.2,1184.0 L1711.3,1183.5 L1713.6,1183.6 L1716.1,1182.9 L1718.7,1182.7 L1721.3,1183.2 L1724.0,1182.9 L1726.7,1183.0 L1729.5,1181.7 L1732.2,1182.3 L1734.9,1182.2 L1737.5,1181.7 L1739.8,1181.8 L1742.0,1182.2 L1744.3,1182.6 L1746.7,1181.8 L1749.0,1181.7 L1751.3,1180.7 L1753.7,1181.9 L1756.1,1181.6 L1758.4,1181.4 L1760.8,1180.9 L1763.2,1182.2 L1765.6,1183.5 L1767.9,1182.1 L1770.3,1181.8 L1772.6,1182.1 L1775.0,1181.7 L1777.4,1181.2 L1779.7,1181.8 L1782.1,1181.1 L1784.6,1181.2 L1787.0,1182.0 L1789.4,1182.1 L1791.8,1181.8 L1794.2,1181.2 L1796.6,1182.2 L1799.0,1181.0 L1801.3,1182.6 L1803.7,1181.6 L1806.0,1181.9 L1808.2,1182.6 L1810.4,1182.3 L1812.6,1181.7 L1815.2,1180.4 L1817.6,1181.1 L1820.1,1181.4 L1822.4,1179.7 L1824.8,1178.6 L1827.1,1180.0 L1829.4,1179.8 L1831.7,1179.9 L1834.1,1179.4 L1836.5,1179.3 L1838.9,1179.2 L1841.1,1179.5 L1843.4,1180.7 L1845.7,1180.1 L1848.1,1180.5 L1850.4,1180.0 L1852.7,1181.7 L1855.1,1180.9 L1857.4,1182.1 L1859.8,1180.0 L1862.1,1182.4 L1864.4,1182.3 L1866.7,1182.1 L1868.9,1182.6 L1871.4,1183.7 L1873.8,1182.7 L1876.3,1181.9 L1878.7,1181.2 L1881.2,1182.9 L1883.6,1181.5 L1886.0,1181.0 L1888.3,1179.4 L1890.6,1181.0 L1892.9,1180.3 L1895.2,1179.8 L1897.6,1179.8 L1899.9,1180.4 L1902.2,1179.7 L1904.4,1182.4 L1906.6,1181.6 L1908.9,1184.0 L1911.1,1183.5 L1913.5,1183.7 L1915.9,1184.5 L1918.1,1184.8 L1920.4,1184.4 L1922.8,1182.9 L1925.3,1183.3 L1927.7,1183.4 L1930.2,1182.0 L1932.7,1180.4 L1935.1,1180.8 L1937.5,1179.7 L1939.8,1179.6 L1942.0,1179.9 L1944.0,1179.8 L1946.8,1179.8 L1949.4,1179.9 L1951.9,1179.0 L1954.3,1181.3 L1956.7,1181.5 L1959.0,1182.6 L1961.0,1183.4 L1962.9,1185.3 L1964.7,1188.6 L1966.5,1187.4 L1968.3,1188.7 L1970.2,1192.0 L1972.2,1192.0 L1974.3,1191.6 L1976.6,1193.5 L1979.0,1191.3 L1981.3,1191.2 L1983.5,1191.6 L1985.5,1190.5 L1987.2,1188.2 L1988.1,1186.8 L1988.8,1185.1 L1989.4,1183.0 L1989.8,1180.7 L1990.1,1178.1 L1990.3,1175.3 L1990.5,1172.4 L1990.5,1169.4 L1990.6,1166.4 L1990.6,1163.3 L1990.6,1160.4 L1990.6,1157.6 L1990.7,1154.9 L1990.9,1152.4 L1991.1,1150.3 L1991.4,1148.4 L1991.9,1146.9 L1993.4,1144.3 L1995.0,1142.2 L1996.6,1141.0 L1997.9,1141.6 L1999.1,1143.1 L2000.3,1145.8 L2001.3,1148.8 L2001.7,1150.4 L2002.1,1152.2 L2002.4,1154.3 L2002.6,1156.5 L2002.8,1158.9 L2002.9,1161.5 L2003.1,1164.1 L2003.2,1166.8 L2003.3,1169.5 L2003.4,1172.2 L2003.6,1174.8 L2003.8,1177.4 L2004.0,1179.9 L2004.2,1182.2 L2004.6,1184.4 L2005.0,1186.3 L2005.7,1190.2 L2006.3,1192.5 L2007.0,1194.5 L2007.9,1197.2 L2008.8,1199.8 L2010.1,1201.9 L2011.6,1202.3 L2013.5,1203.1 L2015.7,1203.5 L2018.2,1203.9 L2020.8,1205.2 L2023.5,1203.4 L2026.1,1204.2 L2028.5,1203.2 L2031.0,1202.3 L2033.5,1204.9 L2036.0,1203.5 L2038.5,1204.3 L2041.0,1205.2 L2043.5,1206.1 L2045.9,1206.2 L2048.5,1206.8 L2051.0,1207.2 L2053.6,1207.2 L2056.1,1206.6 L2058.4,1208.4 L2060.4,1206.1 L2062.4,1205.1 L2064.2,1203.4 L2065.7,1202.5 L2067.3,1200.0 L2068.8,1198.5 L2070.5,1199.6 L2072.1,1201.0 L2073.7,1204.2 L2075.4,1204.2 L2077.2,1204.6 L2079.0,1206.1 L2080.9,1208.1 L2082.9,1208.9 L2085.1,1209.3 L2087.5,1209.3 L2089.9,1209.2 L2092.3,1209.2" fill="none" stroke="#ff4040" stroke-width="6.5" stroke-linejoin="round" stroke-linecap="butt"/>
<path d="M176.0,922.5 L178.3,925.9 L180.5,921.1 L182.8,922.9 L185.1,922.4 L187.4,923.5 L189.7,919.5 L191.9,921.1 L194.2,920.3 L196.5,919.6 L198.7,919.8 L201.0,921.0 L203.3,919.8 L205.6,919.8 L207.8,918.2 L210.1,920.0 L212.4,917.8 L214.6,914.8 L216.9,919.8 L219.2,916.6 L221.4,915.5 L223.7,916.8 L226.0,916.0 L228.3,916.1 L230.5,915.6 L232.8,913.8 L235.1,915.5 L237.4,912.3 L239.6,917.4 L241.9,912.6 L244.2,914.2 L246.5,914.5 L248.7,914.6 L251.0,914.0 L253.3,913.3 L255.6,914.2 L257.8,909.5 L260.1,912.2 L262.4,911.7 L264.6,910.9 L266.9,913.9 L269.2,909.1 L271.5,910.3 L273.7,906.9 L276.0,910.0 L278.3,910.0 L280.5,906.4 L282.8,906.3 L285.1,912.4 L287.4,909.8 L289.6,908.3 L291.9,908.4 L294.2,905.4 L296.5,905.9 L298.7,908.2 L301.0,907.5 L303.3,903.8 L305.6,907.3 L308.0,903.5 L310.4,906.5 L312.7,904.0 L315.1,908.8 L317.4,907.2 L319.6,904.4 L321.8,901.8 L324.0,903.5 L326.0,905.0 L328.8,904.6 L331.4,903.1 L334.0,905.5 L336.4,906.8 L338.7,905.0 L341.0,905.0 L343.1,903.5 L345.0,904.8 L346.9,902.1 L348.9,903.2 L351.0,901.0 L352.9,899.4 L355.0,901.7 L357.1,897.2 L359.4,894.7 L361.6,895.7 L363.9,893.5 L366.2,892.4 L368.5,894.0 L370.6,893.7 L372.8,895.7 L375.0,892.0 L377.1,896.1 L379.3,897.0 L381.6,898.0 L383.8,900.7 L386.1,897.9 L388.5,901.0 L390.6,902.3 L392.8,901.1 L395.1,902.0 L397.4,901.7 L399.6,901.7 L402.0,901.5 L404.3,903.2 L406.6,906.1 L408.9,904.3 L411.2,903.9 L413.5,902.5 L415.8,903.1 L418.1,901.0 L420.3,902.4 L422.6,904.5 L424.9,898.2 L427.1,901.3 L429.4,901.1 L431.7,899.3 L434.0,899.6 L436.2,900.2 L438.5,897.5 L440.8,900.5 L443.0,898.9 L445.3,899.1 L447.6,896.5 L449.9,897.1 L452.1,895.6 L454.4,895.6 L456.7,894.0 L459.0,895.6 L461.2,896.7 L463.5,894.0 L465.8,893.3 L468.0,893.8 L470.3,894.1 L472.6,892.8 L474.9,894.1 L477.1,892.7 L479.4,890.0 L481.7,890.0 L484.0,892.7 L486.2,892.3 L488.5,891.0 L490.8,892.5 L493.0,890.7 L495.3,890.4 L497.6,887.0 L499.9,891.7 L502.1,887.5 L504.4,890.5 L506.7,886.5 L509.0,887.0 L511.2,888.0 L513.5,887.5 L515.8,886.4 L518.0,885.6 L520.3,888.0 L522.6,887.3 L524.9,886.5 L527.1,884.9 L529.4,883.8 L531.7,884.1 L534.0,883.7 L536.2,884.2 L538.5,884.0 L540.8,885.0 L543.1,883.1 L545.4,881.9 L547.7,881.9 L550.0,884.9 L552.2,882.8 L554.5,882.7 L556.8,882.5 L559.1,882.7 L561.3,881.6 L563.5,881.0 L565.8,882.4 L568.2,881.2 L570.5,875.9 L572.8,878.2 L575.1,881.0 L577.4,874.8 L579.6,876.5 L581.8,877.5 L583.9,875.3 L586.0,875.0 L588.6,877.1 L591.1,872.8 L593.6,873.0 L596.0,875.0 L598.4,874.4 L601.0,876.0 L603.4,874.5 L605.9,877.6 L608.5,877.5 L611.1,877.4 L613.7,877.2 L616.1,878.8 L618.2,878.7 L620.0,879.5 L622.0,879.5 L623.6,882.8 L625.2,882.6 L627.3,883.0 L629.4,881.8 L631.4,880.5 L633.3,880.0 L635.0,874.9 L636.5,874.3 L637.5,872.2 L638.4,869.8 L639.2,867.2 L640.0,864.6 L640.6,861.9 L641.0,859.7 L641.3,857.4 L641.5,855.1 L641.7,852.7 L642.0,850.4 L642.3,848.3 L642.7,846.5 L643.6,843.5 L644.7,840.4 L645.8,840.3 L646.6,843.4 L647.4,844.1 L648.2,849.2 L648.9,848.5 L649.4,850.5 L649.8,852.7 L650.2,855.0 L650.6,857.4 L651.0,859.7 L651.5,861.9 L652.1,864.5 L652.8,867.1 L653.5,869.7 L654.2,872.1 L655.1,874.3 L656.3,879.5 L657.6,878.6 L659.2,880.5 L661.8,877.8 L664.4,878.5 L666.5,881.5 L668.5,882.6 L670.5,880.1 L672.7,878.5 L674.0,879.0 L675.4,879.2 L676.9,884.1 L678.4,885.5 L679.9,886.7 L681.9,888.3 L684.0,888.6 L686.1,888.8 L688.2,888.6 L690.4,888.2 L692.3,892.9 L694.3,894.4 L696.4,896.0 L698.4,894.5 L700.5,893.4 L702.6,892.9 L704.5,893.3 L706.3,890.4 L707.8,888.8 L708.7,887.0 L709.3,884.7 L709.8,882.2 L710.2,879.5 L710.5,876.8 L710.9,874.3 L711.3,871.9 L711.7,869.6 L712.0,867.2 L712.3,864.8 L712.6,862.4 L712.9,859.9 L713.2,857.7 L713.5,855.4 L713.7,853.1 L714.0,850.8 L714.3,848.4 L714.5,846.0 L714.8,843.6 L715.0,841.3 L715.2,838.9 L715.3,836.3 L715.4,833.7 L715.6,831.1 L715.7,828.7 L715.9,826.4 L716.1,824.4 L716.5,822.7 L717.5,822.4 L718.6,818.6 L719.4,820.1 L720.1,823.8 L720.7,825.8 L721.1,827.9 L721.4,830.2 L721.7,832.7 L721.9,835.3 L722.2,838.0 L722.4,840.7 L722.7,843.4 L722.9,845.6 L723.2,847.9 L723.4,850.2 L723.6,852.5 L723.9,854.8 L724.1,857.2 L724.3,859.5 L724.6,861.7 L724.8,864.0 L725.1,866.4 L725.3,868.8 L725.6,871.2 L725.9,873.6 L726.1,875.9 L726.4,878.2 L726.7,880.4 L726.9,882.6 L727.1,885.0 L727.3,887.4 L727.4,889.7 L727.6,892.0 L727.9,894.1 L728.4,896.0 L729.5,899.4 L730.9,902.2 L732.5,903.2 L733.8,903.3 L735.2,909.4 L736.8,909.8 L738.7,911.0 L741.0,909.9 L743.5,912.3 L746.3,911.4 L749.1,910.5 L751.6,912.4 L754.2,911.3 L757.0,910.4 L759.7,907.1 L762.3,912.4 L764.5,910.0 L767.1,913.6 L769.3,914.0 L771.8,913.6 L773.8,914.0 L776.0,914.2 L778.3,909.4 L780.7,910.6 L783.0,908.4 L785.2,907.9 L787.4,906.5 L789.5,909.4 L791.5,910.3 L793.5,913.4 L795.5,911.5 L797.7,914.0 L799.9,911.0 L801.9,911.2 L803.8,914.6 L805.7,914.0 L807.5,912.7 L808.9,911.5 L809.6,909.9 L810.1,907.9 L810.4,905.6 L810.6,903.1 L810.7,900.6 L811.0,898.1 L811.3,895.8 L811.5,893.3 L811.8,890.7 L812.0,888.1 L812.3,885.5 L812.5,883.0 L812.8,880.6 L813.1,878.5 L813.5,875.8 L813.8,873.2 L814.3,870.9 L815.1,869.2 L816.6,866.2 L818.2,867.1 L819.6,865.8 L820.8,870.2 L821.4,872.1 L821.9,874.5 L822.2,877.1 L822.5,879.9 L822.9,882.6 L823.2,884.7 L823.5,887.0 L823.8,889.3 L824.1,891.6 L824.3,893.9 L824.6,896.0 L824.9,898.1 L825.2,900.9 L825.5,903.6 L825.8,906.2 L826.5,908.4 L827.6,910.2 L828.9,910.5 L830.6,913.6 L832.6,912.8 L835.0,914.9 L837.5,913.4 L840.0,912.5 L842.4,911.0 L844.7,910.0 L847.2,911.1 L850.0,911.0 L851.8,913.5 L853.9,909.6 L856.0,912.9 L858.3,908.6 L860.6,909.2 L863.0,910.3 L865.4,907.6 L867.9,908.6 L870.3,906.0 L872.7,908.9 L875.0,907.5 L877.3,909.0 L879.5,905.8 L881.8,906.8 L884.1,905.6 L886.4,902.7 L888.6,908.7 L890.9,906.2 L893.2,906.2 L895.5,905.2 L897.7,904.6 L900.0,904.0 L902.3,906.9 L904.5,900.5 L906.8,902.6 L909.1,902.1 L911.4,902.1 L913.6,903.2 L915.9,900.7 L918.2,899.5 L920.4,899.6 L922.7,901.9 L925.0,901.0 L927.3,902.4 L929.5,902.1 L931.8,903.4 L934.1,900.1 L936.4,902.6 L938.6,902.1 L940.9,900.9 L943.2,900.0 L945.5,902.6 L947.7,900.0 L950.0,901.0 L952.3,900.4 L954.6,899.1 L956.8,903.1 L959.1,900.0 L961.4,899.0 L963.7,899.1 L965.9,898.8 L968.2,898.9 L970.5,895.7 L972.7,896.1 L975.0,897.5 L977.3,897.8 L979.6,898.1 L981.8,894.2 L984.1,895.3 L986.4,893.5 L988.6,890.6 L990.9,892.5 L993.2,890.7 L995.4,893.2 L997.7,891.0 L1000.0,891.0 L1002.3,890.7 L1004.5,888.4 L1006.8,890.8 L1009.1,887.6 L1011.3,891.0 L1013.6,892.9 L1015.9,889.0 L1018.2,892.3 L1020.5,893.2 L1022.7,890.7 L1025.0,891.0 L1027.3,892.7 L1029.6,891.0 L1032.0,890.1 L1034.3,887.7 L1036.7,889.0 L1039.0,888.3 L1041.3,893.6 L1043.6,890.6 L1045.8,889.6 L1047.9,887.4 L1050.0,889.0 L1052.4,890.7 L1054.7,885.0 L1057.0,887.7 L1059.2,885.5 L1061.3,882.5 L1063.4,880.1 L1065.5,880.3 L1067.5,880.0 L1069.7,878.2 L1071.8,882.1 L1073.9,884.8 L1075.9,884.9 L1077.9,886.5 L1080.0,886.0 L1082.1,886.1 L1084.2,889.1 L1086.3,888.4 L1088.4,890.6 L1090.4,893.3 L1092.5,892.5 L1094.5,895.2 L1096.5,891.1 L1098.5,889.7 L1100.4,885.3 L1102.4,887.4 L1104.3,886.8 L1106.5,886.2 L1108.8,887.1 L1110.9,888.9 L1113.1,893.0 L1115.3,893.4 L1117.1,892.3 L1118.9,893.0 L1120.8,890.2 L1122.6,888.9 L1124.3,889.3 L1125.9,886.5 L1127.4,883.5 L1128.7,882.6 L1129.9,881.2 L1130.8,876.7 L1131.8,872.6 L1132.8,871.1 L1134.0,871.4 L1135.9,869.3 L1137.9,873.7 L1140.0,874.7 L1141.6,875.3 L1143.3,878.1 L1145.0,880.1 L1146.8,878.9 L1148.6,881.2 L1151.1,882.1 L1153.7,884.0 L1156.2,882.5 L1158.2,883.3 L1159.3,885.0 L1159.8,887.2 L1160.2,889.6 L1160.7,892.0 L1161.5,894.1 L1162.9,897.3 L1164.7,897.0 L1166.4,897.3 L1167.9,900.5 L1168.8,902.4 L1169.5,904.5 L1170.1,906.8 L1170.7,909.1 L1171.4,911.4 L1172.2,913.4 L1173.3,915.0 L1174.6,914.4 L1176.0,920.1 L1177.3,919.8 L1178.6,922.0 L1180.9,926.4 L1182.9,925.2 L1183.6,924.4 L1184.1,922.8 L1184.5,920.6 L1184.8,918.0 L1185.0,915.1 L1185.2,912.1 L1185.5,909.1 L1185.7,907.2 L1185.8,905.3 L1186.0,903.2 L1186.1,901.1 L1186.2,898.8 L1186.3,896.5 L1186.4,894.1 L1186.5,891.7 L1186.6,889.2 L1186.7,886.7 L1186.7,884.2 L1186.8,881.6 L1186.9,879.0 L1186.9,876.5 L1187.0,873.9 L1187.1,871.3 L1187.1,868.7 L1187.2,866.2 L1187.3,864.0 L1187.3,861.7 L1187.4,859.4 L1187.4,857.1 L1187.5,854.8 L1187.5,852.5 L1187.6,850.1 L1187.6,847.7 L1187.7,845.3 L1187.7,842.9 L1187.8,840.5 L1187.8,838.1 L1187.9,835.7 L1187.9,833.3 L1187.9,831.0 L1188.0,828.6 L1188.0,826.2 L1188.1,823.9 L1188.1,821.5 L1188.2,819.2 L1188.2,817.0 L1188.3,814.7 L1188.3,812.5 L1188.4,810.0 L1188.4,807.5 L1188.5,805.0 L1188.5,802.5 L1188.6,800.0 L1188.6,797.5 L1188.7,795.1 L1188.8,792.7 L1188.8,790.2 L1188.9,787.8 L1188.9,785.5 L1189.0,783.2 L1189.1,780.9 L1189.1,778.6 L1189.2,776.4 L1189.3,774.2 L1189.3,772.1 L1189.4,770.0 L1189.5,767.5 L1189.6,765.0 L1189.7,762.5 L1189.8,760.1 L1189.8,757.8 L1189.9,755.5 L1190.0,753.3 L1190.1,751.1 L1190.3,749.0 L1190.4,747.0 L1190.5,745.0 L1190.7,742.3 L1190.9,739.7 L1191.1,737.2 L1191.3,734.9 L1191.5,732.8 L1191.8,731.0 L1192.4,726.2 L1193.0,726.6 L1193.6,728.2 L1194.2,731.0 L1194.4,732.4 L1194.5,734.1 L1194.7,736.0 L1194.7,738.1 L1194.8,740.4 L1194.9,742.8 L1194.9,745.4 L1195.0,748.0 L1195.0,750.6 L1195.1,753.4 L1195.1,756.1 L1195.2,758.8 L1195.3,760.8 L1195.3,762.8 L1195.4,764.9 L1195.4,767.1 L1195.4,769.3 L1195.5,771.6 L1195.5,773.9 L1195.6,776.2 L1195.6,778.5 L1195.7,780.9 L1195.7,783.3 L1195.7,785.8 L1195.8,788.2 L1195.8,790.7 L1195.9,793.1 L1195.9,795.6 L1195.9,798.1 L1196.0,800.5 L1196.0,802.9 L1196.1,805.4 L1196.1,807.8 L1196.2,810.1 L1196.2,812.5 L1196.2,814.8 L1196.3,817.2 L1196.3,819.5 L1196.4,821.9 L1196.4,824.3 L1196.5,826.7 L1196.5,829.0 L1196.6,831.4 L1196.6,833.8 L1196.7,836.2 L1196.7,838.5 L1196.7,840.9 L1196.8,843.3 L1196.8,845.6 L1196.9,848.0 L1196.9,850.3 L1197.0,852.6 L1197.0,854.9 L1197.1,857.2 L1197.1,859.5 L1197.2,861.7 L1197.2,864.0 L1197.3,866.2 L1197.4,868.7 L1197.4,871.3 L1197.5,873.9 L1197.5,876.5 L1197.6,879.1 L1197.6,881.7 L1197.7,884.3 L1197.8,886.9 L1197.8,889.4 L1197.9,891.9 L1198.0,894.4 L1198.0,896.7 L1198.1,899.0 L1198.2,901.2 L1198.3,903.4 L1198.4,905.4 L1198.5,907.3 L1198.6,909.1 L1198.8,912.2 L1199.1,915.3 L1199.3,918.3 L1199.6,920.7 L1199.9,922.4 L1200.1,923.0 L1200.2,922.6 L1200.4,921.6 L1200.5,920.1 L1200.6,918.1 L1200.7,915.6 L1200.8,912.9 L1200.9,910.0 L1201.0,906.9 L1201.1,903.8 L1201.1,900.7 L1201.2,897.7 L1201.3,895.0 L1201.4,892.9 L1201.4,890.7 L1201.5,888.5 L1201.6,886.3 L1201.6,884.0 L1201.7,881.7 L1201.7,879.3 L1201.8,876.9 L1201.8,874.5 L1201.9,872.1 L1201.9,869.7 L1202.0,867.2 L1202.0,864.7 L1202.1,862.3 L1202.1,859.8 L1202.2,857.3 L1202.2,854.9 L1202.3,852.4 L1202.3,850.0 L1202.3,847.7 L1202.4,845.3 L1202.4,843.0 L1202.5,840.6 L1202.5,838.2 L1202.5,835.8 L1202.6,833.3 L1202.6,830.9 L1202.6,828.5 L1202.6,826.1 L1202.7,823.7 L1202.7,821.2 L1202.7,818.8 L1202.8,816.4 L1202.8,814.0 L1202.8,811.6 L1202.9,809.3 L1202.9,806.9 L1202.9,804.6 L1203.0,802.3 L1203.0,800.0 L1203.0,797.5 L1203.1,795.0 L1203.1,792.5 L1203.2,790.1 L1203.2,787.7 L1203.3,785.3 L1203.3,782.9 L1203.4,780.6 L1203.4,778.2 L1203.5,775.8 L1203.5,773.4 L1203.6,771.1 L1203.6,768.6 L1203.7,766.2 L1203.7,763.8 L1203.8,761.3 L1203.8,758.8 L1203.8,756.6 L1203.9,754.3 L1203.9,752.0 L1203.9,749.7 L1204.0,747.3 L1204.0,745.0 L1204.0,742.6 L1204.1,740.2 L1204.1,737.9 L1204.1,735.5 L1204.2,733.1 L1204.2,730.7 L1204.2,728.3 L1204.3,726.0 L1204.3,723.6 L1204.3,721.3 L1204.4,719.0 L1204.4,716.7 L1204.4,714.4 L1204.5,712.2 L1204.5,710.0 L1204.5,707.5 L1204.6,704.9 L1204.6,702.4 L1204.7,699.9 L1204.7,697.4 L1204.8,694.9 L1204.8,692.4 L1204.9,689.9 L1204.9,687.5 L1205.0,685.2 L1205.0,682.8 L1205.1,680.5 L1205.1,678.3 L1205.2,676.1 L1205.2,674.0 L1205.3,672.0 L1205.4,669.1 L1205.5,666.3 L1205.6,663.6 L1205.7,661.0 L1205.8,658.6 L1205.9,656.2 L1206.1,654.0 L1206.2,652.0 L1206.5,648.5 L1206.7,645.3 L1207.0,644.0 L1207.3,645.3 L1207.5,648.5 L1207.8,652.0 L1207.9,653.8 L1208.0,655.8 L1208.1,658.0 L1208.2,660.2 L1208.3,662.6 L1208.4,665.0 L1208.5,667.6 L1208.6,670.2 L1208.7,672.9 L1208.8,674.9 L1208.8,677.0 L1208.9,679.1 L1208.9,681.3 L1209.0,683.5 L1209.0,685.8 L1209.1,688.1 L1209.1,690.5 L1209.2,692.9 L1209.2,695.4 L1209.3,697.8 L1209.3,700.4 L1209.4,702.9 L1209.4,705.5 L1209.5,708.1 L1209.5,710.7 L1209.6,713.3 L1209.6,715.9 L1209.6,718.1 L1209.7,720.3 L1209.7,722.5 L1209.8,724.7 L1209.8,727.0 L1209.8,729.3 L1209.9,731.7 L1209.9,734.0 L1209.9,736.4 L1210.0,738.8 L1210.0,741.2 L1210.0,743.6 L1210.1,746.1 L1210.1,748.5 L1210.2,751.0 L1210.2,753.4 L1210.2,755.9 L1210.3,758.4 L1210.3,760.8 L1210.3,763.3 L1210.4,765.7 L1210.4,768.2 L1210.4,770.6 L1210.5,773.1 L1210.5,775.5 L1210.6,777.9 L1210.6,780.3 L1210.6,782.7 L1210.7,785.1 L1210.7,787.5 L1210.8,789.8 L1210.8,792.2 L1210.8,794.6 L1210.9,797.0 L1210.9,799.4 L1211.0,801.8 L1211.0,804.2 L1211.0,806.5 L1211.1,808.9 L1211.1,811.3 L1211.2,813.7 L1211.2,816.1 L1211.2,818.5 L1211.3,820.8 L1211.3,823.2 L1211.4,825.6 L1211.4,828.0 L1211.5,830.4 L1211.5,832.8 L1211.5,835.2 L1211.6,837.5 L1211.6,839.9 L1211.7,842.3 L1211.7,844.7 L1211.7,847.1 L1211.8,849.5 L1211.8,851.9 L1211.9,854.3 L1211.9,856.8 L1211.9,859.2 L1212.0,861.7 L1212.0,864.1 L1212.0,866.6 L1212.1,869.0 L1212.1,871.5 L1212.2,873.9 L1212.2,876.4 L1212.2,878.8 L1212.3,881.2 L1212.3,883.6 L1212.4,886.0 L1212.4,888.4 L1212.4,890.8 L1212.5,893.2 L1212.5,895.5 L1212.6,897.8 L1212.6,900.1 L1212.7,902.4 L1212.7,904.7 L1212.8,906.9 L1212.8,909.1 L1212.9,911.7 L1212.9,914.4 L1213.0,917.0 L1213.0,919.7 L1213.1,922.4 L1213.1,925.0 L1213.2,927.7 L1213.2,930.3 L1213.3,932.8 L1213.4,935.4 L1213.4,937.8 L1213.5,940.3 L1213.6,942.6 L1213.6,944.9 L1213.7,947.1 L1213.8,949.2 L1213.9,951.3 L1214.0,953.2 L1214.1,955.0 L1214.3,958.0 L1214.5,960.8 L1214.7,963.3 L1214.9,965.7 L1215.2,967.9 L1215.5,970.0 L1215.9,972.8 L1216.3,975.4 L1217.3,977.8 L1218.5,980.2 L1220.1,981.3 L1221.9,984.1 L1223.9,984.0 L1225.9,986.4 L1227.9,985.6 L1230.0,985.7 L1232.2,987.4 L1234.4,987.2 L1236.6,988.5 L1238.7,988.7 L1240.8,987.4 L1243.0,986.4 L1245.1,985.8 L1247.3,986.4 L1249.7,983.0 L1252.2,984.7 L1254.7,985.3 L1257.3,982.2 L1260.0,984.2 L1262.1,984.1 L1264.3,986.0 L1266.6,984.7 L1268.9,986.9 L1271.2,986.8 L1273.6,991.2 L1276.0,991.0 L1278.4,989.3 L1280.8,991.3 L1283.2,988.6 L1285.7,990.6 L1288.2,989.2 L1290.7,989.9 L1293.3,988.2 L1295.7,989.1 L1298.2,987.4 L1300.5,988.2 L1302.8,988.2 L1305.1,989.9 L1307.3,984.6 L1309.5,984.0 L1311.6,986.1 L1313.8,986.0 L1315.9,983.7 L1318.0,984.0 L1320.5,984.8 L1322.9,984.6 L1325.3,984.9 L1327.8,986.4 L1330.3,983.5 L1333.0,984.5 L1335.0,985.4 L1337.2,984.6 L1339.4,983.1 L1341.6,984.7 L1343.9,981.8 L1346.3,981.3 L1348.6,985.0 L1351.0,981.6 L1353.4,985.6 L1355.7,984.6 L1358.0,983.0 L1360.3,982.3 L1362.7,982.0 L1365.1,980.6 L1367.5,983.8 L1369.9,981.8 L1372.3,986.9 L1374.6,982.3 L1376.8,985.2 L1379.0,982.3 L1381.1,984.7 L1383.0,985.0 L1385.4,986.6 L1387.7,983.5 L1389.9,982.4 L1391.9,982.1 L1393.8,982.2 L1395.5,980.0 L1396.5,978.6 L1397.4,976.7 L1398.2,974.4 L1399.0,971.8 L1399.7,969.0 L1400.4,966.0 L1401.0,962.9 L1401.5,959.8 L1402.1,956.8 L1402.6,953.9 L1403.0,951.3 L1403.5,949.0 L1404.0,947.0 L1404.5,945.5 L1405.0,944.6 L1405.5,944.2 L1406.3,944.8 L1407.1,946.3 L1407.8,948.6 L1408.6,951.3 L1409.3,954.3 L1409.9,957.3 L1410.5,960.0 L1410.9,962.1 L1411.1,964.5 L1411.1,967.0 L1411.2,969.6 L1411.2,972.3 L1411.3,974.9 L1411.4,977.4 L1411.7,979.7 L1412.2,981.8 L1413.0,983.6 L1414.0,985.0 L1415.7,987.5 L1417.7,986.6 L1420.0,984.5 L1422.5,988.0 L1425.2,989.0 L1427.9,990.4 L1430.5,987.7 L1433.0,987.5 L1435.5,987.9 L1438.1,987.0 L1440.7,989.2 L1443.4,990.8 L1445.9,986.7 L1448.4,988.1 L1450.8,986.1 L1453.0,987.0 L1455.0,984.8 L1456.9,983.8 L1458.7,982.8 L1460.3,978.8 L1462.0,977.9 L1463.7,979.1 L1465.5,976.8 L1467.0,978.0 L1468.6,979.7 L1470.3,981.1 L1471.9,982.6 L1473.6,986.1 L1475.2,988.9 L1476.9,990.6 L1478.5,994.4 L1480.0,994.7 L1481.6,997.2 L1483.0,996.2 L1484.5,995.6 L1486.0,994.9 L1487.5,990.4 L1488.9,987.7 L1490.2,983.8 L1491.6,984.4 L1492.9,981.0 L1494.2,978.9 L1495.5,978.0 L1497.0,979.4 L1498.5,978.7 L1500.0,982.2 L1501.4,983.9 L1502.9,984.6 L1504.2,989.7 L1505.5,992.5 L1506.5,993.2 L1507.3,998.8 L1508.0,997.8 L1508.7,1000.3 L1509.5,1004.8 L1510.4,1005.4 L1511.6,1005.2 L1513.0,1008.7 L1514.7,1010.3 L1516.7,1010.0 L1519.0,1014.6 L1521.4,1011.4 L1523.9,1012.5 L1526.4,1011.3 L1528.8,1013.5 L1531.0,1017.3 L1533.0,1014.5 L1535.4,1013.5 L1537.7,1010.8 L1539.8,1011.0 L1541.9,1008.8 L1544.0,1008.8 L1545.8,1009.2 L1547.6,1013.3 L1549.3,1014.8 L1551.2,1016.0 L1553.2,1017.6 L1555.5,1016.2 L1557.3,1015.4 L1559.3,1014.2 L1561.5,1018.4 L1563.7,1018.1 L1566.1,1017.7 L1568.5,1017.5 L1571.0,1018.7 L1573.4,1018.4 L1575.9,1017.9 L1578.3,1018.2 L1580.7,1017.2 L1583.0,1017.5 L1585.3,1017.0 L1587.6,1019.6 L1589.9,1017.2 L1592.2,1020.5 L1594.4,1018.5 L1596.7,1017.7 L1599.0,1019.2 L1601.2,1016.8 L1603.5,1017.3 L1605.7,1017.0 L1608.0,1017.5 L1610.3,1017.5 L1612.5,1018.4 L1614.8,1020.2 L1617.1,1018.0 L1619.4,1015.7 L1621.6,1016.0 L1623.9,1014.5 L1626.2,1018.1 L1628.5,1018.3 L1630.7,1017.5 L1633.0,1017.0 L1635.3,1017.6 L1637.5,1017.9 L1639.8,1017.9 L1642.1,1018.3 L1644.4,1017.8 L1646.6,1016.2 L1648.9,1019.1 L1651.2,1019.8 L1653.5,1015.6 L1655.7,1017.7 L1658.0,1018.0 L1660.3,1016.4 L1662.7,1018.8 L1665.1,1017.8 L1667.5,1020.3 L1670.0,1019.9 L1672.4,1017.7 L1674.7,1017.6 L1676.9,1017.2 L1679.1,1018.5 L1681.1,1015.7 L1683.0,1016.2 L1685.0,1015.4 L1686.8,1010.7 L1688.5,1011.8 L1690.0,1008.4 L1691.5,1003.4 L1692.9,1001.6 L1694.2,1001.0 L1695.5,1000.0 L1696.8,999.3 L1697.9,1000.0 L1698.8,1001.7 L1699.5,1004.1 L1700.2,1007.0 L1701.0,1010.1 L1701.8,1013.2 L1702.7,1016.1 L1703.9,1018.4 L1705.5,1020.0 L1707.2,1018.0 L1709.1,1021.6 L1711.2,1023.6 L1713.5,1020.8 L1715.8,1019.3 L1718.3,1022.6 L1720.8,1020.8 L1723.3,1020.4 L1725.8,1020.8 L1728.2,1019.8 L1730.4,1018.0 L1732.7,1018.8 L1735.0,1018.2 L1737.3,1018.2 L1739.7,1019.4 L1742.1,1018.4 L1744.4,1022.2 L1746.8,1020.6 L1749.2,1021.1 L1751.6,1017.5 L1753.9,1019.5 L1756.3,1019.8 L1758.6,1019.5 L1761.0,1019.8 L1763.3,1020.1 L1765.7,1018.1 L1768.0,1017.8 L1770.4,1020.3 L1772.8,1021.5 L1775.1,1021.3 L1777.5,1017.9 L1779.8,1017.1 L1782.2,1018.3 L1784.5,1017.9 L1786.9,1018.4 L1789.3,1020.2 L1791.7,1017.3 L1794.1,1016.5 L1796.5,1018.9 L1798.9,1016.4 L1801.3,1016.1 L1803.7,1018.0 L1806.0,1016.9 L1808.2,1015.7 L1810.5,1016.7 L1812.6,1017.0 L1815.2,1016.3 L1817.7,1016.6 L1820.2,1015.8 L1822.7,1017.6 L1825.0,1016.2 L1827.3,1015.7 L1829.4,1017.8 L1831.4,1016.0 L1834.0,1013.9 L1836.3,1015.2 L1838.5,1013.9 L1840.8,1012.3 L1843.1,1011.3 L1845.5,1011.5 L1847.9,1008.9 L1850.2,1011.0 L1852.5,1011.8 L1854.9,1010.8 L1857.2,1012.0 L1859.5,1014.1 L1861.8,1015.4 L1864.0,1015.2 L1866.3,1017.4 L1868.9,1017.9 L1870.9,1018.7 L1873.1,1019.6 L1875.4,1018.5 L1877.9,1019.2 L1880.3,1016.4 L1882.8,1016.7 L1885.3,1017.9 L1887.7,1017.0 L1890.1,1018.7 L1892.5,1017.9 L1894.8,1016.7 L1897.2,1016.3 L1899.6,1016.7 L1901.9,1019.8 L1904.3,1017.0 L1906.5,1018.5 L1909.1,1018.3 L1911.8,1019.6 L1914.4,1019.4 L1916.9,1017.7 L1919.3,1021.2 L1921.5,1017.9 L1923.6,1017.1 L1925.4,1015.9 L1927.2,1015.2 L1929.0,1012.1 L1930.9,1011.3 L1933.1,1011.0 L1935.4,1008.5 L1937.8,1006.3 L1940.0,1005.4 L1942.1,1006.6 L1944.1,1007.8 L1945.9,1008.8 L1947.7,1010.2 L1949.6,1012.3 L1951.1,1013.1 L1952.7,1015.1 L1954.4,1018.3 L1956.1,1020.6 L1957.9,1020.7 L1959.6,1023.3 L1961.2,1022.2 L1962.8,1026.3 L1964.7,1026.7 L1966.5,1029.3 L1968.2,1030.9 L1970.1,1034.6 L1972.2,1034.8 L1974.2,1032.8 L1976.5,1036.6 L1978.9,1037.1 L1981.3,1038.7 L1983.4,1035.0 L1985.3,1034.8 L1986.8,1034.0 L1988.1,1033.5 L1989.1,1030.5 L1990.1,1025.4 L1991.0,1023.5 L1991.9,1019.8 L1992.8,1018.8 L1993.6,1016.5 L1994.4,1013.8 L1995.2,1010.9 L1996.0,1007.9 L1996.8,1005.1 L1997.5,1002.7 L1998.3,1000.7 L1999.1,999.3 L1999.9,998.8 L2000.9,999.4 L2002.0,1001.7 L2003.1,1004.8 L2004.1,1006.4 L2005.1,1009.7 L2006.0,1011.3 L2006.5,1013.2 L2006.9,1015.5 L2007.2,1017.9 L2007.5,1020.6 L2007.7,1023.5 L2007.9,1026.4 L2008.1,1029.4 L2008.3,1032.3 L2008.5,1035.1 L2008.8,1037.8 L2009.2,1040.3 L2009.6,1042.5 L2010.2,1044.4 L2010.8,1045.9 L2011.6,1047.0 L2013.9,1049.5 L2016.5,1046.9 L2019.1,1048.0 L2021.4,1049.2 L2023.6,1049.9 L2026.0,1049.0 L2028.1,1049.2 L2030.4,1048.7 L2032.8,1050.7 L2035.3,1051.3 L2037.9,1051.7 L2040.2,1053.2 L2042.7,1050.7 L2045.3,1053.4 L2047.9,1057.3 L2050.4,1056.9 L2052.8,1055.3 L2054.8,1055.4 L2057.0,1054.5 L2058.9,1053.6 L2060.7,1051.4 L2062.3,1050.7 L2063.0,1049.4 L2063.7,1047.6 L2064.3,1045.5 L2064.8,1043.0 L2065.4,1040.3 L2065.8,1037.4 L2066.3,1034.4 L2066.7,1031.2 L2067.1,1028.0 L2067.5,1024.9 L2067.8,1021.8 L2068.2,1018.9 L2068.5,1016.2 L2068.8,1013.7 L2069.2,1011.6 L2069.5,1009.8 L2069.9,1008.5 L2070.3,1007.6 L2070.7,1007.3 L2071.4,1007.8 L2072.1,1009.2 L2072.9,1011.4 L2073.6,1014.0 L2074.2,1016.9 L2074.8,1019.8 L2075.4,1022.6 L2075.7,1024.7 L2076.0,1027.0 L2076.1,1029.6 L2076.3,1032.2 L2076.3,1034.9 L2076.4,1037.7 L2076.5,1040.4 L2076.6,1043.2 L2076.7,1045.8 L2076.9,1048.3 L2077.2,1050.6 L2077.7,1052.7 L2078.2,1054.5 L2079.2,1056.4 L2080.5,1059.2 L2081.8,1061.1 L2083.3,1062.7 L2084.8,1063.9 L2086.9,1064.8 L2089.2,1065.1 L2091.4,1065.4" fill="none" stroke="#006ce0" stroke-width="6.5" stroke-linejoin="round" stroke-linecap="butt"/>
<path d="M176.0,520.0 L178.3,521.8 L180.5,521.9 L182.8,519.5 L185.1,517.9 L187.4,517.2 L189.6,518.8 L191.9,516.9 L194.2,516.0 L196.5,518.3 L198.7,518.0 L201.0,517.5 L203.3,518.1 L205.6,515.4 L207.8,516.6 L210.1,516.1 L212.4,513.5 L214.6,516.4 L216.9,515.7 L219.2,518.0 L221.5,514.8 L223.7,513.9 L226.0,513.8 L228.3,515.4 L230.5,513.4 L232.8,514.1 L235.1,511.8 L237.4,512.3 L239.6,513.2 L241.9,512.4 L244.2,511.1 L246.4,508.9 L248.7,511.0 L251.0,510.0 L253.3,509.9 L255.6,510.6 L257.9,509.6 L260.2,510.8 L262.5,508.8 L264.8,509.0 L267.1,509.5 L269.4,506.6 L271.6,507.4 L273.8,507.0 L276.0,507.5 L278.3,510.3 L280.6,506.5 L282.9,507.2 L285.1,506.7 L287.3,504.8 L289.5,502.3 L291.7,505.9 L293.8,503.4 L296.0,503.8 L298.5,504.7 L301.0,501.5 L303.5,502.9 L305.9,505.7 L308.4,506.1 L310.9,501.8 L313.5,503.8 L315.7,501.4 L318.1,503.1 L320.6,503.8 L323.1,502.4 L325.7,502.1 L328.1,499.6 L330.4,501.7 L332.6,502.4 L334.4,500.0 L336.0,501.0 L338.0,500.4 L339.4,503.7 L341.0,506.0 L342.4,506.8 L343.9,501.6 L345.4,502.5 L347.1,499.1 L349.0,498.7 L351.0,497.5 L352.9,496.3 L355.1,495.9 L357.4,497.6 L359.8,495.3 L362.3,496.2 L364.7,493.5 L367.0,492.5 L369.2,493.5 L371.0,492.5 L373.7,488.6 L376.1,491.0 L378.5,491.0 L380.4,492.0 L382.4,491.2 L384.3,495.4 L386.4,495.4 L388.5,497.5 L390.8,495.4 L393.3,499.1 L395.8,498.6 L398.4,499.9 L401.0,501.0 L403.4,500.8 L405.8,502.7 L408.2,500.6 L410.7,499.9 L413.3,500.0 L416.0,499.0 L418.1,495.9 L420.2,500.3 L422.4,496.4 L424.6,498.4 L426.9,495.7 L429.2,495.6 L431.5,496.2 L433.8,499.4 L436.2,497.3 L438.5,496.0 L440.8,494.9 L443.1,495.3 L445.4,493.8 L447.8,495.4 L450.3,494.5 L452.6,496.5 L455.0,493.2 L457.3,494.7 L459.5,493.9 L461.5,494.0 L463.5,495.0 L466.2,495.9 L468.6,494.9 L470.9,495.4 L473.3,496.1 L476.0,494.0 L478.0,495.5 L480.0,491.3 L482.2,493.9 L484.5,490.0 L486.8,492.2 L489.2,494.8 L491.5,491.2 L493.9,490.5 L496.3,490.9 L498.7,490.3 L501.0,490.0 L503.3,489.8 L505.5,488.3 L507.8,490.9 L510.1,490.4 L512.4,488.5 L514.6,489.1 L516.9,489.4 L519.2,489.8 L521.5,488.6 L523.7,488.8 L526.0,487.5 L528.3,486.8 L530.5,485.3 L532.8,485.9 L535.1,487.9 L537.4,487.5 L539.6,485.9 L541.9,484.5 L544.2,485.5 L546.5,487.2 L548.7,486.4 L551.0,484.0 L553.3,482.6 L555.7,483.2 L558.1,480.7 L560.5,480.7 L562.8,482.3 L565.2,481.7 L567.5,482.7 L569.8,482.8 L572.0,481.8 L574.0,482.3 L576.0,480.0 L578.8,478.9 L581.3,477.7 L583.7,480.0 L586.1,482.1 L588.5,479.0 L591.0,479.4 L593.4,477.1 L595.8,479.2 L598.3,481.0 L601.0,479.0 L603.3,477.6 L605.7,480.7 L608.3,479.0 L610.9,482.2 L613.5,481.9 L615.9,481.6 L618.1,484.5 L620.0,481.7 L622.3,481.5 L624.3,481.3 L626.2,482.2 L628.4,484.1 L630.5,478.5 L632.4,478.1 L634.0,479.0 L635.4,473.5 L636.5,470.9 L637.2,469.0 L637.7,467.0 L638.2,464.9 L638.6,462.7 L639.1,460.5 L639.6,458.3 L640.0,456.1 L640.4,453.8 L640.9,451.4 L641.3,449.2 L641.7,447.1 L642.2,444.6 L642.6,442.1 L643.1,439.8 L643.7,437.8 L644.7,433.5 L645.8,433.7 L646.5,434.8 L647.2,437.4 L647.9,439.9 L648.4,442.1 L649.0,444.5 L649.5,447.1 L650.0,449.7 L650.5,452.3 L651.0,454.8 L651.4,457.4 L651.9,459.9 L652.4,462.4 L653.0,464.7 L653.7,467.2 L654.3,468.7 L655.1,472.6 L656.1,472.9 L657.6,472.1 L659.3,476.4 L661.3,479.1 L663.2,480.2 L665.2,484.6 L667.4,480.1 L669.6,484.3 L671.6,484.7 L673.7,484.4 L675.8,485.9 L677.9,488.6 L679.9,488.4 L682.4,490.1 L684.7,492.7 L687.1,491.5 L689.4,491.6 L691.8,494.1 L694.2,496.2 L696.4,494.6 L698.7,494.9 L700.8,491.2 L702.6,489.4 L703.7,489.4 L704.6,484.4 L705.3,486.3 L706.0,481.6 L706.7,479.1 L707.3,477.0 L707.8,474.8 L708.2,472.4 L708.6,470.0 L709.0,467.6 L709.4,465.1 L709.8,462.6 L710.1,460.4 L710.4,458.2 L710.8,455.9 L711.0,453.6 L711.3,451.2 L711.6,448.9 L711.9,446.5 L712.1,444.2 L712.4,441.9 L712.7,439.6 L712.9,437.3 L713.2,434.9 L713.4,432.6 L713.6,430.3 L713.8,427.9 L714.1,425.7 L714.3,423.5 L714.5,421.3 L714.7,418.9 L714.9,416.6 L715.1,414.3 L715.3,412.0 L715.5,409.8 L715.7,407.8 L716.0,405.8 L716.5,403.0 L717.0,400.1 L717.6,397.9 L718.1,397.0 L718.6,397.9 L719.1,400.1 L719.6,403.0 L720.1,405.8 L720.4,407.8 L720.7,409.8 L720.9,412.0 L721.1,414.3 L721.3,416.6 L721.5,418.9 L721.7,421.3 L721.9,423.5 L722.1,425.7 L722.2,427.9 L722.4,430.3 L722.5,432.6 L722.7,434.9 L722.9,437.3 L723.0,439.6 L723.2,441.9 L723.4,444.2 L723.5,446.5 L723.7,448.8 L723.9,451.1 L724.0,453.4 L724.2,455.7 L724.4,458.0 L724.6,460.3 L724.8,462.6 L725.0,464.9 L725.2,467.3 L725.4,469.7 L725.6,472.1 L725.8,474.5 L726.1,476.8 L726.3,479.0 L726.6,481.2 L726.9,483.2 L727.3,485.8 L727.7,488.2 L728.1,490.4 L728.7,492.6 L729.4,494.6 L730.5,496.4 L731.7,498.8 L733.1,501.4 L734.6,501.8 L736.2,506.3 L738.0,505.4 L739.8,506.9 L741.8,509.0 L743.9,511.2 L746.2,510.3 L748.6,510.0 L751.1,513.2 L753.2,514.7 L755.3,512.9 L757.6,514.9 L759.9,511.5 L762.2,509.8 L764.5,512.7 L766.7,513.1 L768.9,512.9 L771.1,515.1 L773.3,513.5 L775.5,513.3 L777.8,513.8 L780.0,513.2 L782.3,513.0 L784.6,514.2 L786.9,512.6 L789.2,516.0 L791.4,514.5 L793.5,515.5 L795.5,516.3 L797.8,517.4 L799.9,517.6 L801.9,514.4 L803.8,515.2 L805.6,517.1 L807.3,511.8 L808.8,512.2 L810.0,509.0 L810.7,507.2 L811.1,505.3 L811.4,503.1 L811.6,500.8 L811.7,498.4 L811.8,496.0 L812.0,493.6 L812.2,491.4 L812.4,489.2 L812.6,486.8 L812.8,484.4 L812.9,482.1 L813.1,479.7 L813.2,477.4 L813.4,475.1 L813.6,472.9 L813.8,470.5 L814.0,468.1 L814.1,465.8 L814.3,463.5 L814.5,461.3 L814.8,459.3 L815.1,457.4 L815.7,455.9 L816.4,452.3 L817.2,450.2 L818.7,449.2 L819.8,451.3 L820.8,454.3 L821.2,456.2 L821.6,458.3 L822.0,460.6 L822.3,463.0 L822.6,465.4 L822.9,467.8 L823.2,469.9 L823.4,472.1 L823.6,474.2 L823.8,476.4 L824.0,478.6 L824.2,480.9 L824.4,483.2 L824.6,485.4 L824.7,487.7 L824.9,490.0 L825.0,492.4 L825.2,494.8 L825.4,497.2 L825.5,499.6 L825.8,501.8 L826.0,503.9 L826.3,506.4 L826.5,508.9 L826.8,511.3 L827.2,513.5 L827.7,515.5 L828.5,517.3 L830.3,522.2 L832.5,522.7 L834.7,522.5 L837.1,523.4 L840.0,522.5 L841.6,519.7 L843.5,521.1 L845.7,523.6 L848.0,521.8 L850.5,519.8 L853.0,519.9 L855.5,520.1 L857.9,521.3 L860.3,520.7 L862.5,520.0 L865.1,521.5 L867.6,519.1 L870.0,522.1 L872.4,520.3 L874.9,520.8 L877.4,523.8 L880.0,521.0 L882.2,520.6 L884.5,519.4 L887.0,518.2 L889.5,516.7 L892.0,518.2 L894.5,516.6 L896.9,514.5 L899.2,512.6 L901.3,513.1 L903.3,511.0 L905.0,511.0 L907.1,512.4 L908.7,513.8 L910.3,514.9 L912.5,516.0 L914.2,518.9 L916.1,519.4 L918.2,519.0 L920.4,514.6 L922.8,520.1 L925.3,518.6 L927.8,517.0 L930.3,517.6 L932.7,519.2 L935.2,519.2 L937.5,517.5 L939.8,518.7 L942.1,517.5 L944.3,517.2 L946.6,518.2 L948.9,516.6 L951.2,515.2 L953.4,515.4 L955.7,515.8 L958.0,516.1 L960.2,518.2 L962.5,515.0 L964.8,512.7 L967.1,514.9 L969.3,513.7 L971.6,513.8 L973.9,514.8 L976.1,514.1 L978.4,511.6 L980.7,510.6 L983.0,508.9 L985.2,510.3 L987.5,510.0 L989.8,511.4 L992.0,508.8 L994.3,509.8 L996.6,509.4 L998.8,508.5 L1001.1,509.1 L1003.4,507.0 L1005.7,505.7 L1007.9,504.9 L1010.2,507.6 L1012.5,506.0 L1014.8,505.3 L1017.1,505.3 L1019.4,506.8 L1021.8,504.5 L1024.1,508.2 L1026.5,506.6 L1028.8,504.9 L1031.0,504.7 L1033.2,507.0 L1035.4,503.6 L1037.5,505.0 L1039.9,503.6 L1042.2,504.0 L1044.5,503.7 L1046.7,502.7 L1048.8,502.6 L1050.9,500.8 L1053.0,500.5 L1055.0,500.0 L1057.3,501.0 L1059.5,499.1 L1061.7,496.5 L1063.7,498.8 L1065.7,493.1 L1067.5,496.0 L1069.1,497.1 L1070.4,499.5 L1071.7,501.9 L1073.1,502.6 L1075.0,504.0 L1076.7,504.3 L1078.6,506.4 L1080.6,506.0 L1082.9,507.5 L1085.3,504.6 L1087.7,508.4 L1090.3,507.1 L1092.8,509.9 L1095.3,509.8 L1097.7,510.0 L1100.0,509.0 L1102.5,508.4 L1105.0,509.5 L1107.6,508.2 L1110.2,508.7 L1112.7,507.8 L1115.2,506.3 L1117.6,509.8 L1119.9,507.3 L1122.1,502.7 L1124.0,504.6 L1126.0,504.5 L1127.7,499.4 L1129.3,499.0 L1130.7,496.5 L1132.1,494.8 L1133.5,494.5 L1135.0,493.6 L1136.9,493.6 L1138.8,493.4 L1140.7,497.1 L1143.0,498.5 L1144.9,499.7 L1147.1,502.1 L1149.4,499.5 L1151.9,498.8 L1154.3,500.4 L1156.6,502.4 L1158.6,501.1 L1160.4,503.4 L1162.1,504.2 L1163.4,508.1 L1164.5,509.7 L1165.5,512.5 L1166.5,513.7 L1167.7,516.8 L1169.1,517.9 L1170.5,520.8 L1171.9,523.1 L1173.4,524.8 L1175.0,527.0 L1176.9,529.4 L1178.9,531.4 L1180.8,532.6 L1182.3,532.0 L1183.0,531.3 L1183.5,530.0 L1183.9,528.1 L1184.1,525.8 L1184.3,523.2 L1184.3,520.3 L1184.3,517.2 L1184.3,514.1 L1184.3,510.9 L1184.4,507.9 L1184.5,505.0 L1184.6,502.9 L1184.7,500.7 L1184.8,498.5 L1184.9,496.2 L1185.0,493.9 L1185.1,491.5 L1185.2,489.2 L1185.2,486.7 L1185.3,484.3 L1185.4,481.8 L1185.4,479.3 L1185.5,476.9 L1185.6,474.4 L1185.6,471.9 L1185.7,469.5 L1185.8,467.1 L1185.8,464.7 L1185.9,462.3 L1186.0,460.0 L1186.1,457.6 L1186.2,455.2 L1186.3,452.9 L1186.4,450.5 L1186.4,448.2 L1186.5,445.9 L1186.6,443.6 L1186.7,441.3 L1186.8,439.0 L1186.9,436.7 L1187.0,434.4 L1187.1,432.0 L1187.2,429.7 L1187.2,427.3 L1187.3,424.9 L1187.4,422.5 L1187.5,420.0 L1187.6,417.7 L1187.6,415.4 L1187.7,413.1 L1187.8,410.7 L1187.9,408.4 L1187.9,406.0 L1188.0,403.5 L1188.1,401.1 L1188.1,398.7 L1188.2,396.2 L1188.3,393.8 L1188.4,391.3 L1188.4,388.9 L1188.5,386.5 L1188.6,384.0 L1188.6,381.6 L1188.7,379.3 L1188.8,376.9 L1188.9,374.6 L1188.9,372.3 L1189.0,370.0 L1189.1,367.5 L1189.2,365.0 L1189.3,362.5 L1189.3,360.0 L1189.4,357.5 L1189.5,355.0 L1189.6,352.6 L1189.7,350.1 L1189.8,347.7 L1189.9,345.3 L1190.0,343.0 L1190.0,340.7 L1190.1,338.4 L1190.2,336.2 L1190.3,334.1 L1190.4,332.0 L1190.5,330.0 L1190.6,327.3 L1190.7,324.6 L1190.9,322.0 L1191.0,319.5 L1191.1,317.1 L1191.3,314.8 L1191.4,312.7 L1191.5,310.7 L1191.7,309.0 L1192.0,306.3 L1192.3,304.0 L1192.6,303.0 L1192.9,304.0 L1193.2,306.3 L1193.5,309.0 L1193.7,310.7 L1193.8,312.7 L1194.0,314.8 L1194.1,317.1 L1194.3,319.5 L1194.4,322.0 L1194.5,324.6 L1194.7,327.3 L1194.8,330.0 L1194.9,332.0 L1195.0,334.1 L1195.1,336.2 L1195.1,338.4 L1195.2,340.7 L1195.3,343.0 L1195.3,345.3 L1195.4,347.7 L1195.5,350.1 L1195.5,352.6 L1195.6,355.0 L1195.7,357.5 L1195.7,360.0 L1195.8,362.5 L1195.9,365.0 L1195.9,367.5 L1196.0,370.0 L1196.1,372.3 L1196.1,374.5 L1196.2,376.9 L1196.2,379.2 L1196.3,381.5 L1196.4,383.9 L1196.4,386.3 L1196.5,388.6 L1196.5,391.0 L1196.6,393.4 L1196.6,395.9 L1196.7,398.3 L1196.8,400.7 L1196.8,403.1 L1196.9,405.6 L1196.9,408.0 L1197.0,410.4 L1197.0,412.8 L1197.1,415.2 L1197.1,417.6 L1197.2,420.0 L1197.3,422.4 L1197.3,424.8 L1197.4,427.2 L1197.4,429.7 L1197.5,432.1 L1197.5,434.5 L1197.6,437.0 L1197.6,439.4 L1197.7,441.9 L1197.7,444.3 L1197.8,446.8 L1197.8,449.2 L1197.9,451.6 L1197.9,454.0 L1198.0,456.4 L1198.0,458.7 L1198.1,461.0 L1198.1,463.3 L1198.2,465.6 L1198.2,467.8 L1198.3,470.0 L1198.4,472.5 L1198.4,475.1 L1198.5,477.7 L1198.5,480.2 L1198.6,482.7 L1198.6,485.2 L1198.7,487.7 L1198.8,490.1 L1198.8,492.4 L1198.9,494.7 L1198.9,497.0 L1199.0,499.1 L1199.1,501.2 L1199.1,503.1 L1199.2,505.0 L1199.3,508.0 L1199.4,511.2 L1199.5,514.1 L1199.7,516.6 L1199.8,518.4 L1199.9,519.0 L1200.0,518.4 L1200.1,516.6 L1200.3,514.1 L1200.4,511.2 L1200.5,508.0 L1200.6,505.0 L1200.7,503.1 L1200.7,501.2 L1200.8,499.1 L1200.9,497.0 L1200.9,494.7 L1201.0,492.4 L1201.0,490.1 L1201.1,487.7 L1201.2,485.2 L1201.2,482.7 L1201.3,480.2 L1201.3,477.7 L1201.4,475.1 L1201.4,472.5 L1201.5,470.0 L1201.5,467.8 L1201.6,465.6 L1201.6,463.4 L1201.7,461.2 L1201.7,458.9 L1201.8,456.6 L1201.8,454.4 L1201.9,452.0 L1201.9,449.7 L1202.0,447.4 L1202.0,445.0 L1202.1,442.6 L1202.1,440.2 L1202.2,437.7 L1202.2,435.3 L1202.3,432.8 L1202.3,430.3 L1202.4,427.7 L1202.4,425.2 L1202.5,422.6 L1202.5,420.0 L1202.5,417.8 L1202.6,415.6 L1202.6,413.4 L1202.6,411.2 L1202.7,408.9 L1202.7,406.6 L1202.7,404.3 L1202.8,401.9 L1202.8,399.6 L1202.8,397.2 L1202.8,394.8 L1202.9,392.4 L1202.9,390.0 L1202.9,387.5 L1203.0,385.1 L1203.0,382.6 L1203.0,380.2 L1203.0,377.7 L1203.1,375.3 L1203.1,372.8 L1203.1,370.3 L1203.1,367.9 L1203.2,365.4 L1203.2,363.0 L1203.2,360.5 L1203.3,358.1 L1203.3,355.6 L1203.3,353.2 L1203.3,350.8 L1203.4,348.4 L1203.4,346.0 L1203.4,343.6 L1203.5,341.2 L1203.5,338.8 L1203.5,336.3 L1203.6,333.9 L1203.6,331.4 L1203.6,328.9 L1203.6,326.4 L1203.7,323.9 L1203.7,321.4 L1203.7,318.9 L1203.8,316.4 L1203.8,313.9 L1203.8,311.4 L1203.9,308.9 L1203.9,306.4 L1203.9,304.0 L1203.9,301.6 L1204.0,299.2 L1204.0,296.8 L1204.0,294.4 L1204.1,292.1 L1204.1,289.8 L1204.1,287.5 L1204.2,285.3 L1204.2,283.1 L1204.3,281.0 L1204.3,278.9 L1204.3,276.9 L1204.4,274.9 L1204.4,273.0 L1204.5,270.2 L1204.5,267.5 L1204.6,264.9 L1204.6,262.3 L1204.7,259.9 L1204.8,257.4 L1204.8,255.1 L1204.9,252.8 L1204.9,250.5 L1205.0,248.3 L1205.1,246.2 L1205.2,244.1 L1205.2,242.0 L1205.3,240.0 L1205.4,237.4 L1205.5,234.9 L1205.6,232.5 L1205.7,230.1 L1205.8,227.9 L1206.0,225.8 L1206.1,223.8 L1206.2,222.0 L1206.4,218.9 L1206.7,216.2 L1206.9,215.0 L1207.2,216.2 L1207.4,218.9 L1207.7,222.0 L1207.8,223.8 L1207.9,225.8 L1208.0,227.9 L1208.1,230.1 L1208.2,232.5 L1208.3,234.9 L1208.4,237.4 L1208.5,240.0 L1208.6,242.0 L1208.6,244.1 L1208.7,246.2 L1208.8,248.3 L1208.9,250.5 L1208.9,252.8 L1209.0,255.1 L1209.1,257.4 L1209.2,259.9 L1209.2,262.3 L1209.3,264.9 L1209.4,267.5 L1209.4,270.2 L1209.5,273.0 L1209.5,274.9 L1209.6,276.9 L1209.6,278.9 L1209.7,281.0 L1209.7,283.1 L1209.7,285.3 L1209.8,287.5 L1209.8,289.8 L1209.9,292.1 L1209.9,294.4 L1209.9,296.8 L1210.0,299.2 L1210.0,301.6 L1210.0,304.0 L1210.1,306.4 L1210.1,308.9 L1210.1,311.4 L1210.2,313.9 L1210.2,316.4 L1210.2,318.9 L1210.3,321.4 L1210.3,323.9 L1210.3,326.4 L1210.4,328.9 L1210.4,331.4 L1210.4,333.9 L1210.5,336.3 L1210.5,338.8 L1210.5,341.2 L1210.6,343.6 L1210.6,346.0 L1210.6,348.4 L1210.7,350.8 L1210.7,353.2 L1210.7,355.6 L1210.8,358.0 L1210.8,360.4 L1210.8,362.8 L1210.9,365.3 L1210.9,367.7 L1210.9,370.1 L1211.0,372.5 L1211.0,375.0 L1211.0,377.4 L1211.1,379.8 L1211.1,382.2 L1211.1,384.7 L1211.1,387.1 L1211.2,389.5 L1211.2,391.9 L1211.2,394.3 L1211.3,396.7 L1211.3,399.1 L1211.3,401.4 L1211.4,403.8 L1211.4,406.2 L1211.4,408.5 L1211.5,410.8 L1211.5,413.1 L1211.5,415.4 L1211.6,417.7 L1211.6,420.0 L1211.6,422.5 L1211.7,425.0 L1211.7,427.5 L1211.8,430.0 L1211.8,432.5 L1211.8,435.0 L1211.9,437.4 L1211.9,439.9 L1211.9,442.3 L1212.0,444.7 L1212.0,447.1 L1212.1,449.5 L1212.1,451.9 L1212.1,454.3 L1212.2,456.7 L1212.2,459.1 L1212.3,461.4 L1212.3,463.8 L1212.3,466.1 L1212.4,468.5 L1212.4,470.8 L1212.5,473.1 L1212.5,475.4 L1212.6,477.7 L1212.6,480.0 L1212.7,482.5 L1212.7,485.0 L1212.8,487.5 L1212.8,490.0 L1212.9,492.5 L1212.9,495.0 L1213.0,497.5 L1213.0,500.0 L1213.1,502.4 L1213.1,504.9 L1213.2,507.3 L1213.2,509.7 L1213.3,512.1 L1213.4,514.4 L1213.4,516.8 L1213.5,519.1 L1213.5,521.3 L1213.6,523.6 L1213.7,525.8 L1213.7,527.9 L1213.8,530.0 L1213.9,532.6 L1214.0,535.1 L1214.0,537.6 L1214.1,540.0 L1214.2,542.4 L1214.3,544.8 L1214.3,547.1 L1214.4,549.4 L1214.5,551.6 L1214.6,553.8 L1214.7,555.9 L1214.9,558.0 L1215.0,560.0 L1215.2,562.5 L1215.4,565.0 L1215.6,567.3 L1215.8,569.7 L1216.0,571.9 L1216.2,574.0 L1216.5,576.1 L1216.8,578.0 L1217.2,580.6 L1217.5,583.1 L1218.1,585.4 L1219.0,587.4 L1220.3,589.9 L1221.9,589.6 L1223.9,590.7 L1226.2,593.5 L1228.0,595.4 L1230.1,595.0 L1232.4,595.8 L1234.8,594.6 L1237.4,596.4 L1240.1,596.3 L1242.8,596.4 L1245.5,597.1 L1248.1,596.1 L1250.6,598.4 L1253.0,598.6 L1255.5,600.1 L1257.9,597.3 L1260.3,598.2 L1262.8,596.3 L1265.2,598.5 L1267.7,599.9 L1270.1,595.4 L1272.6,596.7 L1275.0,597.0 L1277.4,599.1 L1279.8,597.9 L1282.2,597.8 L1284.5,595.3 L1286.9,598.2 L1289.3,600.0 L1291.7,601.0 L1294.2,600.2 L1296.7,598.7 L1299.3,599.6 L1301.5,598.6 L1303.9,597.0 L1306.2,597.8 L1308.7,600.5 L1311.1,598.6 L1313.6,596.6 L1316.1,599.8 L1318.6,595.4 L1321.1,599.1 L1323.6,596.6 L1326.0,597.1 L1328.4,597.3 L1330.7,596.5 L1333.0,596.0 L1335.4,597.6 L1337.8,595.8 L1340.1,595.2 L1342.4,594.7 L1344.6,593.6 L1346.8,594.6 L1349.1,596.9 L1351.3,596.7 L1353.5,597.4 L1355.7,598.2 L1358.0,595.5 L1360.3,596.5 L1362.7,596.2 L1365.1,593.8 L1367.5,595.3 L1369.9,598.4 L1372.2,596.5 L1374.6,595.7 L1376.8,596.3 L1379.0,593.2 L1381.1,594.6 L1383.0,595.5 L1385.9,593.5 L1388.5,592.3 L1391.1,595.6 L1393.4,595.1 L1395.5,592.5 L1396.8,590.8 L1398.0,589.3 L1399.1,584.9 L1400.0,584.0 L1401.0,581.5 L1401.8,579.8 L1402.6,577.3 L1403.4,573.9 L1404.2,571.8 L1405.0,571.5 L1405.7,572.1 L1406.2,573.5 L1406.6,575.6 L1407.0,578.3 L1407.3,581.3 L1407.7,584.5 L1408.1,587.8 L1408.7,590.9 L1409.5,593.6 L1410.5,595.9 L1411.8,597.5 L1413.5,597.5 L1415.5,598.5 L1417.8,600.5 L1420.2,600.6 L1422.8,599.9 L1425.4,602.0 L1428.0,600.4 L1430.6,599.5 L1433.0,599.5 L1435.6,599.4 L1438.2,600.1 L1440.8,599.0 L1443.4,599.2 L1446.0,601.1 L1448.4,599.8 L1450.8,599.8 L1453.0,599.5 L1455.0,599.8 L1456.9,596.0 L1458.7,595.7 L1460.3,591.5 L1462.0,591.2 L1463.6,587.8 L1465.1,583.5 L1466.8,585.5 L1468.2,587.8 L1469.7,587.5 L1471.1,587.5 L1472.6,593.1 L1474.0,596.1 L1475.4,597.2 L1476.7,600.8 L1478.0,604.6 L1479.3,607.3 L1480.5,606.0 L1481.9,607.0 L1483.2,605.6 L1484.4,603.3 L1485.6,596.8 L1486.8,596.1 L1488.0,595.0 L1489.5,592.8 L1491.1,587.0 L1492.6,588.1 L1494.1,586.3 L1495.5,584.5 L1496.5,584.1 L1497.4,586.2 L1498.3,587.8 L1499.1,591.7 L1500.0,594.6 L1500.9,597.6 L1501.9,598.9 L1503.0,602.5 L1504.4,605.2 L1505.9,606.4 L1507.4,610.1 L1509.1,611.1 L1510.9,610.4 L1513.0,613.8 L1514.8,612.7 L1516.8,615.4 L1518.9,615.2 L1521.1,616.8 L1523.5,617.5 L1525.8,616.8 L1528.2,614.7 L1530.6,615.6 L1533.0,617.5 L1535.2,618.6 L1537.4,616.7 L1539.6,619.8 L1541.9,618.5 L1544.2,619.5 L1546.5,617.9 L1548.8,619.1 L1551.1,616.8 L1553.4,619.4 L1555.7,620.6 L1558.0,620.0 L1560.3,619.0 L1562.5,619.2 L1564.8,620.4 L1567.1,620.6 L1569.4,619.6 L1571.6,621.6 L1573.9,618.7 L1576.2,622.3 L1578.5,619.1 L1580.7,619.9 L1583.0,621.0 L1585.3,622.7 L1587.5,619.7 L1589.8,618.8 L1592.1,621.0 L1594.4,619.7 L1596.6,619.4 L1598.9,619.8 L1601.2,619.7 L1603.5,619.3 L1605.7,619.2 L1608.0,620.5 L1610.3,622.6 L1612.5,619.5 L1614.8,621.6 L1617.1,618.5 L1619.4,621.0 L1621.6,618.6 L1623.9,619.6 L1626.2,621.0 L1628.5,619.4 L1630.7,617.5 L1633.0,620.0 L1635.3,619.3 L1637.5,619.7 L1639.8,620.7 L1642.1,618.7 L1644.4,619.6 L1646.6,620.0 L1648.9,617.8 L1651.2,619.7 L1653.5,618.7 L1655.7,620.2 L1658.0,619.5 L1660.3,619.1 L1662.7,618.8 L1665.1,616.1 L1667.5,618.2 L1669.9,617.5 L1672.2,616.4 L1674.5,616.6 L1676.8,615.2 L1679.0,616.8 L1681.0,617.1 L1683.0,616.0 L1685.8,616.4 L1688.3,614.6 L1690.7,617.1 L1693.1,615.9 L1695.5,615.0 L1697.5,614.4 L1699.5,616.3 L1701.4,615.5 L1703.4,618.6 L1705.6,620.7 L1708.0,620.5 L1710.0,622.4 L1712.1,620.5 L1714.4,618.8 L1716.7,620.8 L1719.2,622.7 L1721.7,621.0 L1724.3,622.3 L1726.9,621.5 L1729.6,622.2 L1732.2,620.8 L1734.9,619.1 L1737.5,619.8 L1739.7,620.3 L1742.0,622.2 L1744.3,619.0 L1746.6,617.2 L1748.9,622.0 L1751.2,619.9 L1753.6,618.5 L1756.0,618.5 L1758.3,617.2 L1760.7,620.0 L1763.1,619.2 L1765.5,618.2 L1767.9,618.4 L1770.3,618.3 L1772.6,620.2 L1775.0,618.8 L1777.4,618.5 L1779.8,620.5 L1782.2,617.7 L1784.7,618.0 L1787.2,618.2 L1789.7,618.1 L1792.1,618.7 L1794.6,620.1 L1797.0,620.4 L1799.4,617.5 L1801.8,620.5 L1804.1,619.0 L1806.3,620.9 L1808.5,618.7 L1810.6,617.8 L1812.6,618.8 L1815.3,619.7 L1817.8,619.5 L1820.2,618.1 L1822.6,618.7 L1824.8,618.8 L1827.0,618.8 L1829.2,616.1 L1831.4,617.9 L1833.7,615.9 L1835.9,616.7 L1838.1,616.2 L1840.2,614.4 L1842.3,612.1 L1844.4,615.3 L1846.4,613.2 L1848.8,612.5 L1851.2,611.3 L1853.5,614.5 L1855.7,614.1 L1857.7,613.2 L1859.7,616.0 L1861.3,617.9 L1862.9,619.8 L1865.2,620.7 L1867.1,620.0 L1869.3,621.6 L1871.7,622.1 L1874.3,622.3 L1876.9,621.9 L1879.7,619.9 L1882.4,620.1 L1885.1,620.3 L1887.7,620.7 L1890.2,620.6 L1892.8,620.0 L1895.4,619.1 L1898.0,620.1 L1900.6,622.3 L1903.1,622.1 L1905.6,622.9 L1907.9,619.7 L1910.2,621.7 L1912.5,620.5 L1914.7,621.1 L1916.8,616.4 L1918.9,616.2 L1920.9,614.2 L1923.0,616.6 L1925.2,614.1 L1927.6,613.2 L1930.2,611.5 L1932.8,611.5 L1935.4,610.4 L1937.9,611.0 L1940.2,611.0 L1942.1,609.5 L1944.2,611.1 L1945.9,611.4 L1947.8,612.3 L1949.2,614.3 L1950.7,615.7 L1952.3,617.7 L1954.0,615.7 L1955.7,620.1 L1957.5,621.6 L1959.3,623.4 L1961.0,624.6 L1962.8,626.3 L1964.9,627.9 L1967.1,630.4 L1969.3,631.7 L1971.4,633.2 L1973.6,633.1 L1975.7,633.8 L1977.8,635.7 L1980.2,634.6 L1982.7,632.6 L1985.0,633.0 L1987.2,631.0 L1989.0,630.0 L1989.9,628.4 L1990.6,626.5 L1991.1,624.3 L1991.5,621.8 L1991.9,619.2 L1992.1,616.5 L1992.3,613.8 L1992.5,611.1 L1992.7,608.5 L1993.0,606.1 L1993.3,603.9 L1993.8,602.0 L1994.7,597.2 L1995.6,594.3 L1996.6,593.8 L1997.6,592.1 L1998.5,592.2 L1999.3,592.9 L2000.2,594.5 L2001.0,596.9 L2001.7,599.8 L2002.4,602.8 L2003.1,605.7 L2003.5,607.8 L2003.8,610.1 L2004.0,612.6 L2004.1,615.3 L2004.2,618.1 L2004.4,620.9 L2004.5,623.7 L2004.7,626.5 L2004.9,629.1 L2005.2,631.6 L2005.6,633.9 L2006.2,635.9 L2006.9,637.6 L2008.2,642.2 L2009.7,642.6 L2011.3,642.0 L2013.2,643.5 L2015.3,645.1 L2017.2,644.3 L2019.4,644.8 L2021.8,645.2 L2024.4,645.4 L2027.0,644.4 L2029.5,645.9 L2031.9,645.5 L2034.1,647.2 L2036.0,645.1 L2038.1,644.5 L2039.9,648.3 L2041.5,648.4 L2043.5,649.8 L2045.5,648.4 L2047.8,650.5 L2050.2,649.1 L2052.6,651.1 L2054.7,653.2 L2056.6,649.8 L2057.7,648.7 L2058.7,647.2 L2059.5,645.3 L2060.2,643.2 L2060.8,640.8 L2061.3,638.3 L2061.8,635.7 L2062.2,633.1 L2062.7,630.4 L2063.1,627.8 L2063.6,625.3 L2064.1,623.0 L2064.7,620.5 L2065.2,617.7 L2065.7,614.8 L2066.3,611.8 L2066.7,608.8 L2067.2,606.0 L2067.7,603.4 L2068.2,601.2 L2068.7,599.5 L2069.3,598.4 L2069.8,598.0 L2070.6,598.6 L2071.4,600.2 L2072.2,602.5 L2073.0,605.3 L2073.8,608.3 L2074.5,611.3 L2074.9,613.2 L2075.2,615.2 L2075.5,617.5 L2075.8,619.9 L2076.0,622.5 L2076.2,625.1 L2076.4,627.8 L2076.6,630.5 L2076.8,633.2 L2077.1,635.9 L2077.3,638.4 L2077.6,640.9 L2077.9,643.2 L2078.3,645.3 L2078.7,647.2 L2079.2,648.9 L2080.1,651.4 L2081.1,653.7 L2082.2,655.6 L2083.4,657.2 L2084.8,658.3 L2087.1,658.9 L2089.7,658.8 L2092.3,658.6" fill="none" stroke="#00ae66" stroke-width="6.5" stroke-linejoin="round" stroke-linecap="butt"/>
<text transform="translate(176.2,1564.7) scale(1,1.04)" font-size="79" fill="#000" text-anchor="middle">800</text>
<text transform="translate(652.2,1564.7) scale(1,1.04)" font-size="79" fill="#000" text-anchor="middle">600</text>
<text transform="translate(1128.2,1564.7) scale(1,1.04)" font-size="79" fill="#000" text-anchor="middle">400</text>
<text transform="translate(1604.2,1564.7) scale(1,1.04)" font-size="79" fill="#000" text-anchor="middle">200</text>
<text transform="translate(2080.2,1564.7) scale(1,1.04)" font-size="79" fill="#000" text-anchor="middle">0</text>
<text transform="translate(597.5,1687.8) scale(1,1.04)" font-size="112.4" fill="#000">Binding Energy (eV)</text>
<text transform="translate(106,1253.5) rotate(-90) scale(1,1.04)" font-size="112" fill="#000">Intensity (arb. unit)</text>
<text transform="translate(190.5,580.4) scale(1,1.04)" font-size="60" fill="#000"><tspan letter-spacing="0.6">N-VA-WS</tspan><tspan font-size="40" dy="16">2</tspan><tspan font-size="60" dy="-16">(Ag</tspan><tspan font-size="40" dy="16">15s</tspan><tspan font-size="60" dy="-16">)</tspan></text>
<text transform="translate(190.5,812.1) scale(1,1.04)" font-size="60" fill="#000"><tspan letter-spacing="0.6">N-VA-WS</tspan><tspan font-size="40" dy="16">2</tspan><tspan font-size="60" dy="-16">(Ag</tspan><tspan font-size="40" dy="16">10s</tspan><tspan font-size="60" dy="-16">)</tspan></text>
<text transform="translate(190.5,1089.1) scale(1,1.04)" font-size="60" fill="#000"><tspan letter-spacing="0.6">N-VA-WS</tspan><tspan font-size="40" dy="16">2</tspan><tspan font-size="60" dy="-16">(Ag</tspan><tspan font-size="40" dy="16">5s</tspan><tspan font-size="60" dy="-16">)</tspan></text>
<text transform="translate(190.7,1281.8) scale(1,1.04)" font-size="60" fill="#000">As-synthesized WS<tspan font-size="40" dy="16">2</tspan><tspan font-size="60" dy="-16">-WO</tspan><tspan font-size="40" dy="16">3</tspan></text>
<text transform="translate(607.5,301.8) scale(1,1.04)" font-size="60" fill="#ff0088">Ag3p</text>
<text transform="translate(1145.6,177) scale(1,1.04)" font-size="60" fill="#ff0088">Ag3d</text>
<text transform="translate(770.2,419.5) scale(1,1.04)" font-size="60" fill="#ff0088">O1s</text>
<text transform="translate(902.0,295.2) scale(1,1.04)" font-size="60" fill="#ff0088">W4p</text>
<text transform="translate(1056,404.8) scale(1,1.04)" font-size="60" fill="#ff0088">N1s</text>
<text transform="translate(1346.9,540.4) scale(1,1.04)" font-size="60" fill="#ff0088">C1s</text>
<text transform="translate(1484.1,477) scale(1,1.04)" font-size="60" fill="#ff0088">W4d</text>
<text transform="translate(1632.3,586.5) scale(1,1.04)" font-size="60" fill="#ff0088">S2p</text>
<text transform="translate(1842.1,525.4) scale(1,1.04)" font-size="60" fill="#ff0088">W4f</text>
<text transform="translate(2033,456.1) scale(1,1.04)" font-size="60" fill="#ff0088" text-anchor="middle">Ag</text>
<text transform="translate(2033,511) scale(1,1.04)" font-size="60" fill="#ff0088" text-anchor="middle">4d</text>
<polyline points="665.2,370.5 685,339.7 692.1,352.1" fill="none" stroke="#000" stroke-width="5.3" stroke-linejoin="bevel"/>
<polygon points="640.1,409.6 657.1,362.8 675.6,374.7" fill="#000"/>
<polygon points="715.3,392.4 681.6,355.8 700.7,344.9" fill="#000"/>
<line x1="960.6" y1="324.5" x2="1035.2" y2="445.0" stroke="#000" stroke-width="5.3"/>
<polygon points="1059.7,484.5 1024.8,449.1 1043.5,437.5" fill="#000"/>
<line x1="1110.5" y1="432.6" x2="1117.5" y2="449.8" stroke="#000" stroke-width="5.3"/>
<polygon points="1135.1,492.9 1106.6,452.1 1127.0,443.8" fill="#000"/>
<line x1="1520.8" y1="510.1" x2="1512.2" y2="535.7" stroke="#000" stroke-width="5.3"/>
<polygon points="1497.5,579.8 1502.4,530.3 1523.3,537.3" fill="#000"/>
<line x1="1935" y1="532.5" x2="1958.1" y2="557.9" stroke="#000" stroke-width="5.3"/>
<polygon points="1989.3,592.4 1948.6,563.9 1964.9,549.1" fill="#000"/>
<line x1="2043.5" y1="541" x2="2048.8" y2="555.9" stroke="#000" stroke-width="5.3"/>
<polygon points="2064.5,599.7 2037.8,557.7 2058.5,550.3" fill="#000"/>
</svg>
</body></html>
